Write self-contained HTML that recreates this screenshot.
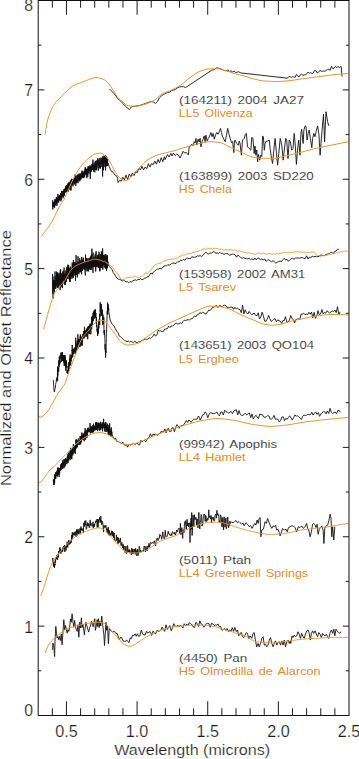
<!DOCTYPE html>
<html><head><meta charset="utf-8"><style>
html,body{margin:0;padding:0;background:#fff;}
svg{display:block;}
text{font-family:"Liberation Sans",sans-serif;}
.tk{font-size:15.8px;fill:#1a1a1a;stroke:#fff;stroke-width:0.2px;}
.ax{font-size:14px;fill:#1a1a1a;stroke:#fff;stroke-width:0.2px;}
.lb{font-size:11.6px;fill:#1a1a1a;letter-spacing:0px;word-spacing:1.6px;stroke:#fff;stroke-width:0.15px;}
.lo{font-size:11.6px;fill:#e98a26;letter-spacing:0px;word-spacing:1.6px;}
</style></head><body>
<svg width="359" height="759" viewBox="0 0 359 759">
<rect width="359" height="759" fill="#fff"/>
<polyline points="109.4,88.9 111.4,90.9 113.4,92.9 115.4,95.0 117.4,98.2 119.4,100.2 121.4,101.8 123.4,104.1 125.4,106.1 127.4,108.1 129.4,109.5 131.4,106.9 133.4,106.3 135.4,106.2 137.4,105.7 139.4,105.5 141.4,104.9 143.4,104.2 145.4,103.5 147.4,102.7 149.4,102.0 151.4,101.6 153.4,102.0 155.4,103.5 157.4,101.4 159.4,97.9 161.4,96.0 163.4,94.5 165.4,93.5 167.4,92.6 169.4,92.2 171.4,90.7 173.4,90.1 175.4,89.5 177.4,87.8 179.4,87.0 181.4,86.7 183.4,86.6 185.4,87.6 185.5,87.6 210.1,71.3 210.1,71.4 211.6,70.0 213.1,69.9 214.6,69.6 216.1,68.0 217.6,67.9 219.1,68.4 220.6,69.0 222.1,69.2 223.6,70.3 225.1,70.7 226.6,70.6 228.1,70.1 229.6,71.4 231.1,70.9 232.6,72.0 234.1,71.0 235.6,72.5 237.1,72.2 238.6,71.7 240.1,72.6 241.4,73.0 286.0,78.0 286.0,78.1 287.3,78.3 288.6,76.8 289.9,76.4 291.2,77.6 292.5,76.6 293.8,77.1 295.1,77.3 296.4,74.4 297.7,76.1 299.0,76.9 300.3,74.9 301.6,74.0 302.9,75.5 304.2,74.7 305.5,75.1 306.8,73.5 308.1,72.0 309.4,73.3 310.7,72.6 312.0,73.7 313.3,72.8 314.6,70.5 315.9,70.7 317.2,72.8 318.5,72.3 319.8,70.6 321.1,71.0 322.4,71.3 323.7,71.0 325.0,71.2 326.3,70.3 327.6,69.6 328.9,69.2 330.2,70.3 331.5,66.4 332.8,68.5 334.1,68.3 335.4,66.3 336.7,67.8 338.0,66.4 339.3,67.8 340.6,66.6 341.2,66.7 342.0,76.5" fill="none" stroke="#111" stroke-width="0.9" stroke-linejoin="round"/>
<polyline points="52.5,206.4 52.6,204.7 52.7,204.9 52.7,200.3 52.8,209.5 52.9,207.9 53.0,204.6 53.1,206.9 53.1,205.7 53.2,203.8 53.3,207.0 53.4,204.1 53.5,203.9 53.5,202.8 53.6,205.5 53.7,204.1 53.8,205.4 53.9,202.8 53.9,204.3 54.0,202.0 54.1,205.7 54.2,204.1 54.3,204.4 54.3,204.4 54.4,201.2 54.5,205.1 54.6,207.8 54.7,199.5 54.7,199.2 54.8,199.6 54.9,204.7 55.0,203.0 55.1,205.0 55.1,204.1 55.2,202.9 55.3,203.0 55.4,201.9 55.5,204.1 55.5,199.6 55.6,201.0 55.7,202.4 55.8,205.7 55.9,200.0 55.9,199.2 56.0,200.3 56.1,203.5 56.2,200.8 56.3,204.1 56.3,197.0 56.4,203.5 56.5,203.2 56.6,197.7 56.7,201.1 56.7,203.3 56.8,200.8 56.9,202.7 57.0,205.6 57.1,200.9 57.1,199.6 57.2,198.4 57.3,201.4 57.4,199.5 57.5,199.4 57.5,199.5 57.6,201.1 57.7,197.2 57.8,196.1 57.9,194.0 57.9,201.9 58.0,199.4 58.1,202.4 58.2,199.0 58.3,197.3 58.3,199.9 58.4,198.6 58.5,195.9 58.6,196.6 58.7,202.4 58.7,199.2 58.8,199.2 58.9,197.6 59.0,196.6 59.1,200.0 59.1,197.7 59.2,196.2 59.3,197.5 59.4,195.7 59.5,198.0 59.5,200.0 59.6,195.6 59.7,200.5 59.8,195.8 59.9,197.5 59.9,195.2 60.0,196.5 60.1,197.0 60.2,195.8 60.3,195.2 60.3,195.1 60.4,194.7 60.5,193.0 60.6,195.8 60.7,197.1 60.7,198.2 60.8,197.5 60.9,201.4 61.0,196.6 61.1,194.8 61.1,199.8 61.2,193.3 61.3,197.7 61.4,193.4 61.5,196.1 61.5,190.9 61.6,197.2 61.7,194.7 61.8,192.9 61.9,198.6 61.9,196.5 62.0,194.8 62.1,193.0 62.2,194.5 62.3,194.1 62.3,196.0 62.4,196.0 62.5,192.7 62.6,192.9 62.7,192.8 62.7,190.9 62.8,192.5 62.9,193.5 63.0,195.2 63.1,196.5 63.1,191.7 63.2,194.6 63.3,192.3 63.4,197.7 63.5,193.0 63.5,194.1 63.6,190.8 63.7,191.0 63.8,193.1 63.9,191.8 63.9,193.3 64.0,189.0 64.1,193.8 64.2,190.2 64.3,195.9 64.3,191.4 64.4,194.4 64.5,188.8 64.6,192.7 64.7,189.7 64.7,190.5 64.8,191.5 64.9,190.7 65.0,191.8 65.1,192.8 65.1,192.5 65.2,190.8 65.3,187.9 65.4,189.0 65.5,190.2 65.5,185.9 65.6,192.1 65.7,189.8 65.8,189.7 65.9,192.3 65.9,191.6 66.0,190.5 66.1,187.7 66.2,190.5 66.3,190.4 66.3,187.6 66.4,191.8 66.5,190.5 66.6,185.0 66.7,189.5 66.7,186.3 66.8,191.5 66.9,190.7 67.0,186.4 67.1,186.8 67.1,188.8 67.2,188.0 67.3,191.8 67.4,189.9 67.5,187.6 67.5,189.4 67.6,183.6 67.7,188.6 67.8,189.7 67.9,187.3 67.9,186.1 68.0,188.8 68.1,191.8 68.2,187.8 68.3,184.8 68.3,190.3 68.4,182.9 68.5,188.1 68.6,185.6 68.7,188.8 68.7,184.8 68.8,189.5 68.9,187.2 69.0,182.6 69.1,182.0 69.1,185.5 69.2,189.0 69.3,186.3 69.4,186.1 69.5,185.3 69.5,187.4 69.6,186.5 69.7,186.2 69.8,183.3 69.9,188.0 69.9,188.3 70.0,182.4 70.1,190.2 70.2,186.6 70.3,183.9 70.3,180.7 70.4,186.2 70.5,185.9 70.6,183.3 70.7,180.6 70.7,186.9 70.8,183.1 70.9,183.2 71.0,190.5 71.1,188.8 71.1,186.1 71.2,183.0 71.3,185.3 71.4,178.8 71.5,183.9 71.5,182.0 71.6,180.7 71.7,180.0 71.8,184.6 71.9,183.5 71.9,183.6 72.0,185.0 72.1,181.2 72.2,180.3 72.3,179.0 72.3,182.1 72.4,184.5 72.5,182.4 72.6,184.1 72.7,180.0 72.7,181.5 72.8,180.8 72.9,179.6 73.0,186.4 73.1,184.1 73.1,180.5 73.2,180.4 73.3,181.9 73.4,178.8 73.5,182.8 73.5,179.0 73.6,180.9 73.7,179.4 73.8,180.6 73.9,178.6 73.9,178.0 74.0,179.3 74.1,179.8 74.2,180.6 74.3,181.4 74.3,184.5 74.4,182.9 74.5,180.5 74.6,182.5 74.7,179.4 74.7,184.0 74.8,182.0 74.9,177.7 75.0,182.3 75.1,182.4 75.1,174.6 75.2,178.8 75.3,179.3 75.4,176.1 75.5,177.9 75.5,178.1 75.6,181.3 75.7,180.7 75.8,185.8 75.9,179.1 75.9,182.4 76.0,180.0 76.1,180.4 76.2,177.2 76.3,175.4 76.3,177.9 76.4,181.2 76.5,183.0 76.6,180.7 76.7,180.5 76.7,177.5 76.8,182.6 76.9,182.1 77.0,178.0 77.1,179.0 77.1,176.8 77.2,182.2 77.3,179.8 77.4,178.6 77.5,179.7 77.5,179.7 77.6,177.7 77.7,175.9 77.8,175.7 77.9,174.6 77.9,179.4 78.0,183.2 78.1,174.6 78.2,178.5 78.3,179.1 78.3,176.0 78.4,178.5 78.5,175.6 78.6,180.6 78.7,176.6 78.7,178.1 78.8,179.3 78.9,176.8 79.0,173.7 79.1,176.4 79.1,179.2 79.2,177.3 79.3,177.9 79.4,175.0 79.5,177.6 79.5,178.9 79.6,177.3 79.7,181.3 79.8,176.6 79.9,174.7 79.9,173.4 80.0,179.4 80.1,176.7 80.2,179.0 80.3,177.7 80.3,180.2 80.4,179.4 80.5,175.7 80.6,177.1 80.7,178.8 80.7,173.6 80.8,179.5 80.9,178.9 81.0,178.3 81.1,175.7 81.1,176.7 81.2,173.5 81.3,176.1 81.4,174.6 81.5,176.0 81.5,174.6 81.6,176.3 81.7,178.2 81.8,172.7 81.9,177.5 81.9,171.0 82.0,170.6 82.1,175.0 82.2,175.2 82.3,176.1 82.3,171.5 82.4,174.9 82.5,175.3 82.6,177.7 82.7,174.6 82.7,175.9 82.8,172.6 82.9,174.2 83.0,173.6 83.1,176.1 83.1,172.3 83.2,172.6 83.3,175.6 83.4,178.2 83.5,175.0 83.5,174.8 83.6,173.3 83.7,176.4 83.8,175.1 83.9,177.7 83.9,174.5 84.0,171.7 84.1,172.4 84.2,171.4 84.3,170.8 84.3,176.3 84.4,175.2 84.5,170.6 84.6,177.2 84.7,173.8 84.7,171.1 84.8,174.0 84.9,172.9 85.0,171.3 85.1,168.6 85.1,172.9 85.2,173.4 85.3,167.0 85.4,173.9 85.5,173.9 85.5,171.5 85.6,172.7 85.7,171.8 85.8,170.5 85.9,171.5 85.9,175.2 86.0,168.9 86.1,172.6 86.2,172.4 86.3,170.4 86.3,170.9 86.4,168.7 86.5,169.9 86.6,171.7 86.7,172.4 86.7,169.6 86.8,178.2 86.9,170.2 87.0,171.7 87.1,170.8 87.1,170.4 87.2,174.1 87.3,170.1 87.4,174.0 87.5,173.5 87.5,168.7 87.6,173.2 87.7,169.4 87.8,176.8 87.9,169.9 87.9,168.6 88.0,166.4 88.1,167.7 88.2,169.2 88.3,168.2 88.3,167.7 88.4,168.8 88.5,169.8 88.6,173.4 88.7,166.4 88.7,168.9 88.8,167.9 88.9,166.6 89.0,167.1 89.1,167.8 89.1,171.4 89.2,169.3 89.3,168.5 89.4,171.0 89.5,170.2 89.5,169.0 89.6,170.3 89.7,167.6 89.8,170.7 89.9,170.3 89.9,168.3 90.0,165.2 90.1,174.1 90.2,169.4 90.3,178.9 90.4,166.8 90.5,171.6 90.6,167.4 90.7,169.6 90.8,171.4 90.9,166.0 91.0,168.2 91.1,169.0 91.2,168.8 91.3,170.3 91.4,171.6 91.5,171.0 91.6,169.0 91.7,167.0 91.8,164.4 91.9,165.6 92.0,166.2 92.1,170.1 92.2,166.7 92.3,163.7 92.4,169.8 92.5,165.1 92.6,165.1 92.7,166.8 92.8,169.0 92.9,159.6 93.0,163.7 93.1,167.9 93.2,166.1 93.3,164.4 93.4,165.4 93.5,171.6 93.6,165.6 93.7,169.3 93.8,169.5 93.9,165.4 94.0,168.3 94.1,165.3 94.2,164.7 94.3,163.0 94.4,169.4 94.5,165.3 94.6,164.7 94.7,162.8 94.8,172.3 94.9,168.7 95.0,165.9 95.1,164.0 95.2,161.2 95.3,167.1 95.4,167.0 95.5,161.4 95.6,169.7 95.7,168.4 95.8,162.7 95.9,164.0 96.0,164.4 96.1,166.2 96.2,165.2 96.3,160.3 96.4,170.3 96.5,166.5 96.6,169.5 96.7,169.5 96.8,164.7 96.9,166.4 97.0,167.6 97.1,167.7 97.2,164.6 97.3,163.1 97.4,165.1 97.5,162.4 97.6,163.1 97.7,158.3 97.8,165.1 97.9,161.4 98.0,162.9 98.1,164.5 98.2,165.6 98.3,170.7 98.4,165.2 98.5,159.8 98.6,164.8 98.7,162.4 98.8,165.6 98.9,162.0 99.0,161.9 99.1,162.4 99.2,162.0 99.3,158.1 99.4,161.8 99.5,163.8 99.6,167.7 99.7,162.8 99.8,162.5 99.9,165.5 100.0,165.4 100.1,168.7 100.2,165.4 100.3,163.4 100.4,167.7 100.5,168.3 100.6,161.7 100.7,163.7 100.8,157.7 100.9,161.9 101.0,160.1 101.1,162.2 101.2,161.3 101.3,162.3 101.4,162.4 101.5,164.3 101.6,163.4 101.7,160.8 101.8,158.4 101.9,166.5 102.0,167.1 102.1,160.9 102.2,164.2 102.3,157.3 102.4,157.2 102.5,161.3 102.6,166.9 102.6,176.5 102.7,158.7 102.8,159.4 102.9,167.3 102.9,158.0 103.0,155.8 103.1,164.1 103.2,163.5 103.3,161.2 103.4,162.5 103.5,170.3 103.6,158.1 103.7,160.7 103.8,160.9 103.9,159.4 104.0,157.3 104.1,166.8 104.2,162.3 104.3,155.8 104.4,159.2 104.5,162.8 104.6,162.7 104.7,156.7 104.8,161.0 104.9,162.2 105.0,162.5 105.1,162.5 105.2,155.3 105.3,167.2 105.4,161.8 105.5,167.0 105.6,170.4 105.7,160.6 105.8,157.1 105.9,163.9 106.0,160.5 106.1,159.6 106.2,157.7 106.3,166.5 106.4,159.6 106.5,156.5 106.6,159.5 106.7,157.3 106.8,161.6 106.9,159.8 107.0,157.8 107.1,163.3 107.2,159.4 107.3,164.0 107.4,165.9 107.5,160.8 107.6,160.1 107.7,163.0 107.8,165.5 107.9,162.9 108.0,163.3 109.2,166.5 110.4,169.4 111.6,171.6 112.8,171.9 114.0,173.6 115.2,175.3 116.4,175.8 117.6,178.3 118.0,182.5 119.6,180.3 121.2,181.2 122.8,177.2 124.4,179.8 126.0,175.1 127.6,179.6 129.2,174.2 130.8,176.6 132.4,172.9 134.0,175.6 135.6,171.6 137.2,172.7 138.8,168.2 140.4,170.0 142.0,166.2 143.6,169.9 145.2,167.0 146.8,168.8 148.4,163.7 150.0,167.1 151.6,163.5 153.2,164.7 154.8,161.1 156.4,164.2 158.0,159.4 159.6,162.8 161.2,157.7 162.8,161.7 164.4,156.7 165.0,159.6 167.5,154.6 169.0,157.0 170.8,153.4 172.0,156.0 173.4,153.0 175.0,155.5 176.7,154.0 178.4,155.0 180.0,158.0 181.7,154.6 183.0,151.3 184.6,153.0 186.3,152.5 187.6,154.2 188.4,155.0 189.2,146.7 190.5,145.8 191.7,144.2 192.9,146.0 194.2,141.7 195.0,143.0 195.9,138.4 196.7,145.1 198.1,139.2 199.2,142.0 200.1,138.4 200.9,146.8 202.0,142.0 203.1,139.2 204.2,135.9 205.1,141.7 205.9,135.1 207.1,140.9 208.4,138.4 209.7,136.0 210.9,132.5 212.1,136.7 213.1,133.4 214.3,139.2 215.5,135.1 216.8,132.5 218.1,134.2 219.3,131.7 220.5,128.4 221.5,132.5 222.6,136.7 223.8,139.2 225.2,141.7 226.5,135.1 227.7,128.4 228.8,133.4 230.2,138.4 231.5,142.6 232.6,141.5 233.8,152.6 234.5,140.9 235.0,140.1 236.7,143.5 238.3,145.1 239.2,141.0 240.0,143.0 241.4,155.2 242.5,140.1 244.2,138.4 245.4,134.3 246.4,133.4 247.5,146.8 249.2,148.5 250.9,150.2 251.7,137.6 252.9,138.0 254.2,153.5 255.0,146.0 255.9,155.2 256.8,150.0 257.6,161.9 258.4,154.5 259.7,160.2 260.9,155.0 261.8,156.5 262.6,135.9 263.4,137.0 264.3,150.2 265.1,143.5 265.9,141.4 267.6,141.0 269.3,140.1 270.1,148.5 271.8,160.2 272.6,163.5 273.8,150.0 275.1,138.4 276.5,153.5 277.6,165.2 278.8,153.5 280.2,138.4 281.8,145.1 283.2,160.2 284.3,150.0 285.7,138.4 286.7,140.1 288.0,158.5 289.2,140.1 290.4,142.0 291.7,150.2 293.0,148.5 294.2,133.4 295.4,146.8 296.4,164.4 297.5,150.0 298.7,140.1 300.0,155.2 300.9,133.4 301.7,129.3 303.1,143.5 303.9,130.1 305.1,125.9 306.0,126.5 307.1,140.1 308.1,133.4 309.2,130.1 310.4,138.5 311.8,147.7 312.6,138.5 313.8,133.4 315.0,136.8 316.4,130.1 317.6,125.9 319.0,135.1 320.1,155.2 321.1,142.0 322.1,130.1 323.5,114.2 324.6,141.8 326.0,111.7 327.6,121.7 328.8,125.9" fill="none" stroke="#111" stroke-width="0.9" stroke-linejoin="round"/>
<polyline points="52.5,293.7 52.6,274.1 52.6,286.7 52.7,282.5 52.8,283.0 52.9,284.0 52.9,276.3 53.0,283.8 53.1,281.1 53.1,298.4 53.2,285.7 53.3,283.2 53.3,283.5 53.4,281.8 53.5,280.1 53.6,282.9 53.6,286.6 53.7,283.5 53.8,288.5 53.8,283.6 53.9,284.5 54.0,290.9 54.0,286.6 54.1,282.1 54.2,283.4 54.3,286.4 54.3,292.3 54.4,282.9 54.5,282.9 54.5,288.2 54.6,280.1 54.7,282.6 54.7,287.5 54.8,286.2 54.9,284.0 55.0,286.4 55.0,271.5 55.1,287.8 55.2,279.3 55.2,276.3 55.3,284.5 55.4,286.2 55.4,281.3 55.5,278.5 55.6,283.1 55.7,282.7 55.7,288.9 55.8,286.0 55.9,283.6 55.9,287.4 56.0,281.8 56.1,278.6 56.1,285.0 56.2,284.9 56.3,281.5 56.4,279.0 56.4,283.2 56.5,271.6 56.6,285.0 56.6,284.1 56.7,275.0 56.8,282.2 56.8,277.8 56.9,285.0 57.0,273.1 57.1,277.8 57.1,284.6 57.2,286.4 57.3,272.3 57.3,279.3 57.4,282.7 57.5,278.7 57.5,288.0 57.6,276.1 57.7,282.6 57.8,276.6 57.8,286.9 57.9,280.8 58.0,279.3 58.0,273.5 58.1,287.9 58.2,283.9 58.2,283.8 58.3,285.4 58.4,282.0 58.5,277.7 58.5,277.0 58.6,277.0 58.7,286.1 58.7,274.0 58.8,277.7 58.9,278.8 58.9,281.1 59.0,282.5 59.1,274.7 59.2,272.6 59.2,279.9 59.3,285.0 59.4,283.0 59.4,280.7 59.5,278.3 59.6,280.9 59.6,278.6 59.7,283.0 59.8,276.1 59.9,280.0 59.9,278.9 60.0,281.7 60.1,280.3 60.1,290.1 60.2,285.6 60.3,285.5 60.3,270.4 60.4,277.6 60.5,276.4 60.6,281.2 60.6,269.2 60.7,283.9 60.8,283.4 60.8,273.2 60.9,274.6 61.0,275.3 61.0,278.8 61.1,281.3 61.2,287.2 61.3,277.6 61.3,281.7 61.4,279.1 61.5,285.8 61.5,281.5 61.6,284.1 61.7,273.6 61.7,277.3 61.8,274.6 61.9,284.5 62.0,280.8 62.0,276.7 62.1,276.0 62.2,279.9 62.2,274.8 62.3,273.8 62.4,279.8 62.4,288.1 62.5,276.6 62.6,275.2 62.7,272.6 62.7,271.8 62.8,279.7 62.9,281.0 62.9,277.4 63.0,278.7 63.1,277.7 63.1,277.8 63.2,270.6 63.3,275.1 63.4,277.5 63.4,273.7 63.5,274.9 63.6,273.4 63.6,275.4 63.7,280.4 63.8,275.0 63.8,276.0 63.9,280.1 64.0,279.3 64.1,283.7 64.1,267.6 64.2,280.1 64.3,274.3 64.3,276.9 64.4,279.8 64.5,280.8 64.5,280.6 64.6,276.8 64.7,282.9 64.8,274.8 64.8,275.4 64.9,279.3 65.0,273.5 65.0,285.0 65.1,280.1 65.2,285.0 65.2,275.5 65.3,274.0 65.4,276.3 65.5,278.6 65.5,272.9 65.6,277.0 65.7,275.3 65.7,282.2 65.8,272.4 65.9,279.6 65.9,272.4 66.0,271.0 66.1,272.0 66.2,269.9 66.2,275.5 66.3,279.3 66.4,275.5 66.4,277.4 66.5,281.7 66.6,275.8 66.6,275.4 66.7,273.4 66.8,267.7 66.9,277.7 66.9,266.9 67.0,277.1 67.1,274.2 67.1,279.0 67.2,273.9 67.3,270.6 67.3,275.6 67.4,271.7 67.5,273.2 67.6,274.1 67.6,273.3 67.7,273.0 67.8,270.2 67.8,272.9 67.9,264.6 68.0,273.0 68.0,268.5 68.1,278.3 68.2,278.9 68.3,265.1 68.3,274.0 68.4,272.8 68.5,268.8 68.5,275.5 68.6,271.2 68.7,265.6 68.7,271.9 68.8,272.4 68.9,273.4 69.0,267.7 69.0,275.4 69.1,275.9 69.2,267.9 69.2,269.9 69.3,272.3 69.4,270.2 69.4,279.9 69.5,273.3 69.6,268.1 69.7,269.0 69.7,272.0 69.8,282.0 69.9,271.4 69.9,272.7 70.0,274.3 70.1,271.8 70.1,281.7 70.2,269.6 70.3,275.0 70.4,272.5 70.4,274.4 70.5,266.7 70.6,279.1 70.6,271.1 70.7,271.7 70.8,267.5 70.8,268.3 70.9,273.8 71.0,275.5 71.1,274.5 71.1,276.3 71.2,274.2 71.3,271.2 71.3,274.6 71.4,273.5 71.5,270.5 71.5,274.0 71.6,276.3 71.7,271.8 71.8,269.2 71.8,273.7 71.9,278.7 72.0,269.7 72.0,270.1 72.1,269.9 72.2,275.6 72.2,262.6 72.3,271.9 72.4,275.3 72.5,266.8 72.5,276.5 72.6,272.4 72.7,267.7 72.7,270.9 72.8,263.5 72.9,267.5 72.9,277.7 73.0,266.0 73.1,277.6 73.2,269.4 73.2,273.9 73.3,269.9 73.4,260.1 73.4,267.1 73.5,270.3 73.6,264.6 73.6,263.7 73.7,271.0 73.8,266.6 73.9,262.1 73.9,266.4 74.0,272.9 74.1,267.2 74.1,273.1 74.2,275.6 74.3,269.2 74.3,264.2 74.4,263.5 74.5,268.9 74.6,272.7 74.6,270.0 74.7,271.2 74.8,266.9 74.8,270.0 74.9,266.7 75.0,267.3 75.0,263.2 75.1,261.9 75.2,266.5 75.3,263.8 75.3,264.4 75.4,271.3 75.5,268.0 75.5,280.8 75.6,272.3 75.7,265.6 75.7,271.6 75.8,269.8 75.9,265.3 76.0,272.9 76.0,264.8 76.1,255.1 76.2,271.4 76.2,265.4 76.3,274.3 76.4,265.2 76.4,262.9 76.5,274.5 76.6,263.3 76.7,268.7 76.7,273.9 76.8,268.2 76.9,267.4 76.9,268.1 77.0,271.2 77.1,264.2 77.1,270.2 77.2,270.0 77.3,277.4 77.4,266.0 77.4,263.6 77.5,270.5 77.6,265.7 77.6,268.6 77.7,267.9 77.8,272.2 77.8,264.5 77.9,266.8 78.0,256.3 78.1,263.4 78.1,273.7 78.2,264.2 78.3,264.1 78.3,261.9 78.4,269.5 78.5,267.7 78.5,261.9 78.6,269.7 78.7,268.0 78.8,270.1 78.8,264.1 78.9,274.2 79.0,268.5 79.0,266.2 79.1,264.5 79.2,265.6 79.2,270.3 79.3,265.5 79.4,271.2 79.5,269.0 79.5,272.2 79.6,270.0 79.7,266.2 79.7,258.3 79.8,267.7 79.9,269.7 79.9,267.0 80.0,268.7 80.1,264.3 80.2,264.6 80.2,262.2 80.3,272.0 80.4,266.9 80.4,264.1 80.5,260.5 80.6,265.4 80.6,272.2 80.7,268.0 80.8,262.9 80.9,272.1 80.9,272.0 81.0,270.1 81.1,269.3 81.1,270.8 81.2,268.2 81.3,269.1 81.3,262.5 81.4,272.2 81.5,266.7 81.6,274.3 81.6,257.0 81.7,268.7 81.8,269.8 81.8,264.2 81.9,267.5 82.0,268.7 82.0,268.0 82.1,263.2 82.2,264.9 82.3,269.8 82.3,270.9 82.4,265.8 82.5,265.7 82.5,266.2 82.6,269.8 82.7,260.8 82.7,259.6 82.8,265.8 82.9,260.5 83.0,262.7 83.0,265.6 83.1,267.2 83.2,260.6 83.2,268.5 83.3,257.6 83.4,267.4 83.4,258.3 83.5,259.6 83.6,267.7 83.7,263.2 83.7,261.6 83.8,263.0 83.9,266.9 83.9,264.6 84.0,264.7 84.1,269.3 84.1,261.8 84.2,262.8 84.3,262.5 84.4,269.7 84.4,268.9 84.5,270.1 84.6,264.5 84.6,264.0 84.7,268.2 84.8,262.9 84.8,268.1 84.9,267.6 85.0,261.5 85.1,264.1 85.1,264.0 85.2,271.8 85.3,275.4 85.3,264.0 85.4,264.4 85.5,254.6 85.5,265.2 85.6,264.3 85.7,259.7 85.8,267.6 85.8,257.6 85.9,263.3 86.0,264.8 86.0,258.8 86.1,267.8 86.2,268.6 86.2,258.2 86.3,258.1 86.4,266.6 86.5,263.9 86.5,258.8 86.6,262.7 86.7,263.5 86.7,263.3 86.8,267.4 86.9,265.5 86.9,271.4 87.0,269.7 87.1,266.7 87.2,268.3 87.2,269.4 87.3,266.7 87.4,258.5 87.4,267.3 87.5,264.0 87.6,270.5 87.6,264.0 87.7,265.8 87.8,265.0 87.9,270.7 87.9,264.3 88.0,262.3 88.1,264.8 88.1,261.6 88.2,264.1 88.3,263.4 88.3,264.5 88.4,271.5 88.5,261.6 88.6,263.5 88.6,262.4 88.7,266.1 88.8,258.2 88.8,260.3 88.9,263.0 89.0,265.5 89.0,263.0 89.1,261.0 89.2,259.4 89.3,265.3 89.3,269.2 89.4,264.4 89.5,263.8 89.5,264.9 89.6,259.0 89.7,261.6 89.7,261.8 89.8,264.2 89.9,262.7 90.0,257.7 90.0,267.6 90.1,270.0 90.2,261.7 90.2,264.5 90.3,263.9 90.4,266.1 90.4,256.4 90.5,269.5 90.6,260.7 90.7,268.0 90.7,263.0 90.8,261.0 90.9,262.0 90.9,266.4 91.0,258.9 91.1,260.9 91.1,260.5 91.2,255.2 91.3,268.0 91.4,264.9 91.4,262.3 91.5,267.4 91.6,258.3 91.6,262.1 91.7,269.7 91.8,266.5 91.8,252.8 91.9,248.7 92.0,257.9 92.1,266.8 92.1,260.2 92.2,261.3 92.3,264.8 92.3,258.4 92.4,263.1 92.5,265.5 92.5,264.1 92.6,263.8 92.7,259.5 92.8,264.2 92.8,260.2 92.9,267.6 93.0,272.9 93.0,258.8 93.1,252.7 93.2,260.1 93.2,263.5 93.3,266.4 93.4,266.5 93.5,258.6 93.5,258.5 93.6,267.2 93.7,257.2 93.7,266.4 93.8,260.8 93.9,265.0 93.9,264.7 94.0,265.0 94.1,265.2 94.2,257.5 94.2,262.9 94.3,261.7 94.4,262.9 94.4,266.8 94.5,260.4 94.6,258.5 94.6,258.5 94.7,260.2 94.8,264.7 94.9,258.0 94.9,266.4 95.0,262.7 95.1,260.5 95.1,255.7 95.2,262.4 95.3,264.3 95.3,253.8 95.4,266.4 95.5,268.3 95.6,262.7 95.6,263.4 95.7,271.5 95.8,266.5 95.8,257.4 95.9,261.1 96.0,260.5 96.0,260.5 96.1,251.1 96.2,264.3 96.3,258.4 96.3,261.8 96.4,260.5 96.5,264.7 96.5,259.8 96.6,257.6 96.7,263.2 96.7,266.9 96.8,259.6 96.9,266.8 97.0,262.0 97.0,258.6 97.1,267.4 97.2,257.4 97.2,265.2 97.3,258.7 97.4,262.7 97.4,255.6 97.5,257.2 97.6,265.3 97.7,261.6 97.7,260.9 97.8,258.9 97.9,262.6 97.9,254.8 98.0,255.9 98.1,260.0 98.1,257.1 98.2,257.7 98.3,260.3 98.4,260.1 98.4,259.7 98.5,267.7 98.6,264.9 98.6,265.8 98.7,260.5 98.8,258.4 98.8,254.4 98.9,259.1 99.0,251.7 99.1,258.1 99.1,263.8 99.2,267.4 99.3,264.6 99.3,256.9 99.4,262.6 99.5,257.2 99.5,264.0 99.6,260.0 99.7,264.2 99.8,271.4 99.8,264.4 99.9,270.4 100.0,261.3 100.0,259.1 100.1,266.2 100.2,267.8 100.2,258.1 100.3,260.8 100.4,254.4 100.5,259.7 100.5,264.3 100.6,260.1 100.7,258.1 100.7,254.5 100.8,262.1 100.9,263.9 100.9,263.1 101.0,261.6 101.1,255.1 101.2,268.0 101.2,260.3 101.3,259.9 101.4,263.7 101.4,251.4 101.5,260.3 101.6,260.0 101.6,262.2 101.7,266.3 101.8,262.6 101.9,252.8 101.9,259.2 102.0,261.5 102.1,261.3 102.1,255.2 102.2,253.6 102.3,263.0 102.3,262.2 102.4,260.6 102.5,253.4 102.6,268.3 102.6,248.4 102.7,259.2 102.8,269.7 102.8,260.1 102.9,261.8 103.0,255.8 103.0,266.6 103.1,255.3 103.2,261.9 103.3,261.4 103.3,256.4 103.4,264.6 103.5,254.9 103.5,258.0 103.6,260.8 103.7,259.2 103.7,262.9 103.8,264.9 103.9,259.7 104.0,258.7 104.0,258.8 104.1,259.5 104.2,264.5 104.2,260.1 104.3,262.8 104.4,260.7 104.4,257.5 104.5,264.8 104.6,256.7 104.7,261.2 104.7,267.5 104.8,256.6 104.9,261.0 104.9,254.5 105.0,259.1 105.1,255.0 105.1,259.8 105.2,259.1 105.3,262.0 105.4,268.2 105.4,262.7 105.5,264.3 105.6,261.4 105.6,260.6 105.7,258.1 105.8,254.0 105.8,262.0 105.9,268.7 106.0,263.8 106.1,259.6 106.1,268.9 106.2,260.1 106.3,259.3 106.3,256.9 106.4,258.0 106.5,261.1 106.5,270.7 106.6,261.3 106.7,257.9 106.8,259.7 106.8,261.4 106.9,255.1 107.0,263.0 107.0,265.5 107.1,263.9 107.2,265.2 107.2,257.2 107.3,255.6 107.4,268.3 107.5,267.6 107.5,256.5 107.6,264.0 107.7,263.4 107.7,265.7 107.8,264.4 107.9,261.4 107.9,264.5 108.0,263.9 109.3,266.4 110.6,267.9 111.9,269.3 113.2,272.7 114.5,274.0 115.8,276.7 117.1,278.3 118.4,279.2 119.7,279.4 121.0,280.0 122.3,280.9 123.6,280.0 124.9,281.3 126.2,281.6 127.5,281.7 128.8,282.7 130.1,281.4 131.4,282.2 132.7,280.7 134.0,280.3 135.3,279.8 136.6,280.4 137.9,279.4 139.2,279.7 140.5,278.7 141.8,279.6 143.1,279.6 144.4,278.1 145.7,278.2 147.0,276.8 148.3,277.0 149.6,275.0 150.9,273.1 152.2,274.0 153.5,272.1 154.8,270.8 156.1,270.2 157.4,268.9 158.7,269.1 160.0,268.0 161.3,268.9 162.6,267.9 163.9,266.0 165.2,265.7 166.5,265.9 167.8,264.6 169.1,265.2 170.4,264.6 171.7,263.5 173.0,263.0 174.3,263.1 175.0,263.6 176.4,263.2 177.8,261.6 179.2,261.9 180.6,260.2 182.0,260.7 183.4,259.3 184.8,260.2 186.2,258.3 187.6,258.2 189.0,258.6 190.4,258.7 191.8,256.8 193.2,257.1 194.6,257.3 196.0,257.0 197.4,255.8 198.8,256.2 200.2,255.5 201.6,256.5 203.0,255.3 204.4,253.3 205.8,252.2 207.2,253.5 208.6,254.0 210.0,252.9 211.4,253.2 212.8,252.1 214.2,251.5 215.6,253.3 217.0,252.9 218.4,253.6 219.8,252.2 221.2,253.6 222.6,253.2 224.0,254.5 225.4,253.5 226.8,253.6 228.2,253.8 229.6,255.4 231.0,254.6 232.4,254.2 233.8,254.3 235.2,254.7 236.6,257.2 238.0,255.0 239.4,256.2 240.8,257.7 242.2,258.3 243.6,257.5 245.0,258.4 246.4,258.6 247.8,258.9 249.2,258.3 250.6,259.7 252.0,258.7 253.4,260.0 254.8,258.0 256.2,259.8 257.6,258.1 259.0,258.1 260.4,259.8 261.8,258.9 263.2,260.0 264.6,259.0 266.0,261.3 267.4,260.3 268.8,259.6 270.2,261.0 271.6,261.8 273.0,260.7 274.4,261.9 275.8,263.2 277.2,262.3 278.6,261.6 280.0,261.0 281.4,261.7 282.8,259.8 284.2,258.3 285.6,259.9 287.0,259.3 288.4,261.3 289.8,259.8 291.2,258.7 292.6,258.3 294.0,259.3 295.4,258.0 296.8,257.9 298.2,258.1 299.6,258.0 301.0,257.8 302.4,257.6 303.8,258.4 305.2,258.6 306.6,255.8 308.0,259.0 309.4,257.0 310.8,257.8 312.2,256.0 313.6,256.8 315.0,256.5 316.4,256.3 317.8,256.7 319.2,256.3 320.6,254.8 322.0,255.3 323.4,255.7 324.8,255.5 326.2,254.3 327.6,254.1 329.0,253.8 330.4,252.7 331.8,252.1 333.2,253.8 334.6,251.5 336.0,251.1 337.4,249.3 338.8,249.5" fill="none" stroke="#111" stroke-width="0.9" stroke-linejoin="round"/>
<polyline points="53.3,380.1 53.7,385.5 54.1,391.3 54.5,392.0 54.9,388.7 55.3,387.9 55.7,384.4 56.1,382.4 56.5,378.4 56.9,377.9 57.0,377.8 57.1,381.4 57.2,376.6 57.4,376.6 57.5,369.3 57.6,380.8 57.7,366.5 57.8,375.6 58.0,370.3 58.1,367.8 58.2,367.7 58.3,367.0 58.4,369.6 58.6,367.3 58.7,371.7 58.8,360.2 58.9,365.5 59.0,361.9 59.2,366.6 59.3,356.6 59.4,361.7 59.5,362.9 59.6,356.8 59.8,364.1 59.9,360.8 60.0,362.8 60.1,362.0 60.2,355.0 60.4,355.0 60.5,356.3 60.6,358.8 60.7,358.7 60.8,353.2 61.0,353.3 61.1,352.5 61.2,353.1 61.3,354.2 61.4,354.6 61.6,361.8 61.7,353.6 61.8,354.4 61.9,356.9 62.0,352.5 62.2,354.6 62.3,356.0 62.4,358.6 62.5,352.0 62.6,361.0 62.8,355.6 62.9,357.5 63.0,359.9 63.1,359.5 63.2,361.0 63.4,358.3 63.5,357.9 63.6,359.1 63.7,355.1 63.8,362.5 64.0,356.2 64.1,354.9 64.2,365.9 64.3,359.0 64.4,355.8 64.6,365.9 64.7,359.1 64.8,363.8 64.9,357.9 65.0,360.1 65.2,355.7 65.3,355.3 65.4,358.6 65.5,361.8 65.6,365.0 65.8,370.7 65.9,359.9 66.0,367.0 66.1,362.3 66.2,364.4 66.4,360.6 66.5,361.3 66.6,364.1 66.7,363.4 66.8,367.9 67.0,366.1 67.1,373.0 67.2,369.9 67.3,370.3 67.4,373.8 67.6,372.1 67.7,370.4 67.8,370.3 67.9,370.1 68.0,373.8 68.2,372.4 68.3,370.6 68.4,371.4 68.5,366.4 68.6,369.1 68.8,362.0 68.9,370.2 69.0,365.4 69.1,364.9 69.2,365.5 69.4,362.9 69.5,361.6 69.6,365.8 69.7,361.8 69.8,357.9 70.0,361.8 70.1,354.4 70.2,364.8 70.3,358.4 70.4,358.6 70.6,365.3 70.7,364.5 70.8,357.5 70.9,358.7 71.0,359.8 71.2,361.4 71.3,355.1 71.4,355.7 71.5,358.9 71.6,355.5 71.8,356.8 71.9,356.1 72.0,350.2 72.1,350.9 72.2,344.9 72.4,352.5 72.5,357.5 72.6,349.4 72.7,356.9 72.8,355.9 73.0,352.4 73.1,352.4 73.2,352.5 73.3,349.3 73.4,351.0 73.6,351.6 73.7,353.6 73.8,354.0 73.9,348.8 74.0,353.7 74.2,348.3 74.3,350.1 74.4,351.6 74.5,350.1 74.6,349.5 74.8,350.5 74.9,347.6 75.0,347.0 75.1,348.2 75.2,351.7 75.4,348.0 75.5,354.2 75.6,348.5 75.7,337.8 75.8,345.8 76.0,352.4 76.1,346.7 76.2,345.0 76.3,343.4 76.4,350.3 76.6,349.0 76.7,347.7 76.8,346.7 76.9,349.8 77.0,347.5 77.2,340.7 77.3,347.0 77.4,344.9 77.5,343.9 77.6,346.6 77.8,344.0 77.9,334.3 78.0,348.7 78.1,346.9 78.2,343.0 78.4,342.1 78.5,344.0 78.6,338.9 78.7,344.0 78.8,342.2 79.0,341.7 79.1,339.7 79.2,340.4 79.3,346.1 79.4,346.7 79.6,343.9 79.7,342.0 79.8,339.2 79.9,344.3 80.0,347.1 80.2,336.5 80.3,345.4 80.4,334.4 80.5,340.2 80.6,342.4 80.8,336.6 80.9,335.9 81.0,341.3 81.1,343.4 81.2,338.8 81.4,344.5 81.5,337.4 81.6,345.5 81.7,340.0 81.8,340.2 82.0,341.2 82.1,340.0 82.2,344.7 82.3,345.7 82.4,340.1 82.6,337.5 82.7,334.0 82.8,335.1 82.9,337.3 83.0,336.7 83.2,336.5 83.3,336.4 83.4,337.6 83.5,331.3 83.6,332.0 83.8,338.6 83.9,337.3 84.0,332.5 84.1,338.1 84.2,331.3 84.4,332.4 84.5,326.9 84.6,335.3 84.7,332.3 84.8,335.5 85.0,334.1 85.1,331.9 85.2,332.0 85.3,335.2 85.4,330.7 85.6,330.6 85.7,331.2 85.8,333.6 85.9,333.9 86.0,337.1 86.2,330.5 86.3,334.8 86.4,328.6 86.5,332.6 86.6,331.0 86.8,336.2 86.9,332.5 87.0,329.1 87.1,332.3 87.2,331.6 87.4,329.3 87.5,329.4 87.6,327.2 87.7,339.2 87.8,330.6 88.0,333.2 88.1,326.2 88.2,326.4 88.3,329.3 88.4,329.2 88.6,332.2 88.7,326.2 88.8,331.0 88.9,334.1 89.0,326.0 89.2,331.8 89.3,325.5 89.4,329.6 89.5,329.5 89.6,333.8 89.8,325.7 89.9,328.3 90.0,330.9 90.1,323.5 90.2,327.0 90.4,324.0 90.5,324.3 90.6,328.6 90.7,328.4 90.8,334.3 91.0,330.1 91.1,329.5 91.2,324.5 91.3,323.7 91.4,324.8 91.6,316.6 91.7,329.0 91.8,321.0 91.9,319.3 92.0,320.8 92.2,324.7 92.3,325.4 92.4,319.6 92.5,321.8 92.6,319.7 92.8,316.2 92.9,319.5 93.0,318.6 93.1,313.0 93.2,321.2 93.4,312.0 93.5,317.5 93.6,312.9 93.7,313.3 93.8,313.2 94.0,317.3 94.1,310.5 94.2,313.5 94.3,318.7 94.4,310.9 94.6,312.6 94.7,314.5 94.8,310.2 94.9,313.4 95.0,309.6 95.2,314.1 95.3,312.3 95.4,309.5 95.5,317.8 95.6,313.8 95.8,314.2 95.9,313.1 96.0,315.7 96.1,318.1 96.2,320.0 96.4,324.1 96.5,317.1 96.6,321.2 96.7,327.2 96.8,324.9 97.0,326.8 97.1,331.7 97.2,328.7 97.3,330.1 97.4,329.4 97.6,336.0 97.7,334.2 97.8,328.8 97.9,333.0 98.0,327.3 98.2,334.1 98.3,332.1 98.4,328.6 98.5,326.8 98.6,321.2 98.8,328.4 98.9,324.4 99.0,322.6 99.1,324.8 99.2,319.3 99.4,318.6 99.5,317.2 99.6,314.0 99.7,325.0 99.8,315.3 100.0,313.6 100.1,316.5 100.2,302.3 100.3,311.6 100.4,311.0 100.6,307.3 100.7,311.8 100.8,303.8 100.9,310.6 101.0,313.8 101.2,304.1 101.3,307.2 101.4,312.0 101.5,313.1 101.6,311.7 101.8,315.6 101.9,315.9 102.0,311.2 102.1,315.8 102.2,312.4 102.4,310.3 102.5,309.6 102.6,321.3 102.7,318.0 102.8,325.2 103.0,314.6 103.1,318.8 103.2,321.7 103.3,320.8 103.4,323.6 103.6,323.2 103.7,321.7 103.8,317.2 103.9,322.9 104.0,332.9 104.2,331.3 104.3,334.8 104.4,330.0 104.5,333.0 104.6,332.4 104.8,338.3 104.9,339.1 105.0,342.4 105.1,349.5 105.2,344.1 105.4,352.2 105.5,347.8 105.6,357.6 105.7,353.0 105.8,353.1 106.0,351.2 106.1,352.6 106.2,343.0 106.3,337.0 106.4,330.5 106.6,331.6 106.7,324.7 106.8,322.4 106.9,320.4 107.0,319.1 107.2,311.3 107.3,313.0 107.4,314.4 107.5,302.5 107.6,311.5 107.8,314.2 107.9,305.6 108.0,309.9 108.1,303.9 108.2,310.0 108.4,308.4 108.5,311.0 108.6,307.7 108.7,308.6 108.8,311.7 110.1,319.9 111.4,323.0 112.7,324.8 114.0,326.1 115.3,328.5 116.6,331.1 117.9,332.6 119.2,335.9 120.5,336.7 121.8,337.8 123.1,339.2 124.4,340.5 125.7,340.9 127.0,341.7 128.3,341.0 129.6,342.2 130.9,341.3 132.2,342.1 133.5,342.3 134.8,341.1 136.1,342.3 137.4,342.8 138.7,341.5 140.0,342.0 141.3,340.8 142.6,340.5 143.9,339.7 145.2,338.9 146.5,339.6 147.8,339.2 149.1,337.6 150.4,338.5 151.7,337.4 153.0,336.2 154.3,334.0 155.6,336.2 156.9,334.9 158.2,330.4 159.5,330.9 160.8,330.9 162.1,331.8 163.4,331.4 164.7,329.0 166.0,329.0 167.3,328.8 168.6,326.1 169.9,327.5 171.2,326.0 172.5,326.0 173.8,325.3 175.1,323.6 176.4,323.3 177.7,324.0 179.0,323.7 180.3,322.8 181.6,323.7 182.9,321.7 184.2,320.2 185.5,320.5 186.8,320.1 188.1,319.5 189.4,320.2 190.7,318.8 192.0,318.7 193.3,317.6 194.6,316.0 195.9,316.7 197.2,314.7 198.5,314.7 199.8,312.7 201.1,313.4 202.4,312.4 203.7,312.6 205.0,313.7 206.3,313.8 207.6,311.7 208.9,310.0 210.2,310.4 211.5,309.0 212.8,307.3 214.1,307.0 215.4,306.2 216.7,305.5 218.0,307.6 219.3,305.6 220.6,305.7 221.9,307.1 223.2,305.6 224.5,305.2 225.8,305.7 227.1,307.3 228.4,307.3 229.7,307.5 231.0,307.1 232.3,307.0 233.6,309.4 234.9,307.3 236.2,309.0 237.5,308.1 238.8,309.3 240.0,309.7 241.3,312.8 242.6,305.0 243.9,313.9 245.2,309.8 246.5,312.6 247.8,314.0 249.1,311.4 250.4,313.2 251.7,314.7 253.0,313.9 254.3,313.1 255.6,315.4 256.9,315.6 258.2,312.8 259.5,319.0 260.8,317.1 262.1,312.2 263.4,315.7 264.7,321.2 266.0,321.2 267.3,318.9 268.6,315.4 269.9,318.6 271.2,321.5 272.5,320.5 273.8,319.3 275.1,318.6 276.4,321.8 277.7,319.8 279.0,320.8 280.3,321.2 281.6,323.5 282.9,320.5 284.2,320.7 285.5,316.6 286.8,322.4 288.1,322.0 289.4,320.1 290.7,315.5 292.0,318.6 293.3,319.5 294.6,323.0 295.9,319.4 297.2,319.3 298.5,318.8 299.8,319.3 301.1,314.0 302.4,314.2 303.7,313.2 305.0,314.7 306.3,314.2 307.6,314.8 308.9,312.3 310.2,314.2 311.5,312.1 312.8,317.8 314.1,312.3 315.4,318.3 316.7,316.3 318.0,310.6 319.3,314.8 320.6,314.0 321.9,309.6 323.2,313.8 324.5,312.4 325.8,313.2 327.1,310.7 328.4,312.2 329.7,313.1 331.0,311.9 332.3,310.9 333.6,311.7 334.9,310.0 336.2,312.6 337.5,306.7 338.8,314.7 340.1,311.8" fill="none" stroke="#111" stroke-width="0.9" stroke-linejoin="round"/>
<polyline points="53.3,481.3 53.4,479.6 53.5,482.0 53.6,483.4 53.7,484.9 53.8,481.9 53.9,479.9 54.0,479.0 54.1,482.6 54.2,484.6 54.3,480.8 54.4,476.6 54.5,477.0 54.6,483.4 54.7,479.5 54.8,474.2 54.9,478.3 55.0,475.2 55.1,476.4 55.2,476.5 55.3,475.7 55.4,478.8 55.5,477.0 55.6,475.4 55.7,477.8 55.8,478.7 55.9,472.0 56.0,475.4 56.1,473.4 56.2,475.3 56.3,472.2 56.4,475.4 56.5,475.1 56.6,474.2 56.7,472.1 56.8,473.6 56.9,471.6 57.0,470.7 57.1,474.7 57.2,471.0 57.3,476.8 57.4,475.4 57.5,468.2 57.6,473.9 57.7,470.1 57.8,472.9 57.9,472.8 58.0,467.3 58.1,471.7 58.2,471.5 58.3,474.4 58.4,468.7 58.5,473.5 58.6,468.6 58.7,470.4 58.8,468.9 58.9,474.7 59.0,472.2 59.1,476.9 59.2,472.1 59.3,472.5 59.4,472.3 59.5,468.4 59.6,469.6 59.7,473.1 59.8,468.4 59.9,469.8 60.0,469.1 60.1,470.5 60.2,467.9 60.3,468.2 60.4,469.1 60.5,468.6 60.6,465.9 60.7,470.3 60.8,464.5 60.9,464.6 61.0,464.2 61.1,469.9 61.2,466.3 61.3,464.6 61.4,464.0 61.5,467.9 61.6,463.9 61.7,463.2 61.8,467.9 61.9,463.1 62.0,465.2 62.1,465.9 62.2,464.6 62.3,465.5 62.4,468.9 62.5,464.0 62.6,461.9 62.7,460.2 62.8,464.3 62.9,463.8 63.0,465.3 63.1,463.2 63.2,463.0 63.3,462.3 63.4,462.6 63.5,464.3 63.6,462.7 63.7,463.8 63.8,468.4 63.9,464.5 64.0,459.0 64.1,467.5 64.2,463.8 64.3,460.3 64.4,464.9 64.5,462.5 64.6,460.7 64.7,460.5 64.8,459.5 64.9,462.0 65.0,464.6 65.1,460.8 65.2,462.6 65.3,466.3 65.4,458.1 65.5,461.8 65.6,460.2 65.7,458.1 65.8,458.1 65.9,460.6 66.0,461.6 66.1,459.0 66.2,460.4 66.3,462.0 66.4,460.7 66.5,462.1 66.6,460.9 66.7,460.9 66.8,464.2 66.9,461.0 67.0,459.6 67.1,460.9 67.2,456.6 67.3,458.0 67.4,460.8 67.5,460.2 67.6,462.5 67.7,458.3 67.8,454.4 67.9,463.1 68.0,460.8 68.1,455.0 68.2,461.2 68.3,457.6 68.4,452.7 68.5,456.2 68.6,455.8 68.7,461.1 68.8,454.8 68.9,456.0 69.0,455.8 69.1,455.4 69.2,453.9 69.3,456.7 69.4,458.8 69.5,457.5 69.6,453.3 69.7,452.6 69.8,455.7 69.9,453.4 70.0,453.5 70.1,450.6 70.2,459.9 70.3,457.0 70.4,452.0 70.5,456.7 70.6,457.7 70.7,447.8 70.8,452.4 70.9,452.7 71.0,455.2 71.1,453.1 71.2,452.6 71.3,452.9 71.4,457.7 71.5,458.3 71.6,451.2 71.7,450.0 71.8,459.2 71.9,449.5 72.0,450.4 72.1,451.8 72.2,452.8 72.3,454.1 72.4,452.3 72.5,448.8 72.6,452.2 72.7,451.4 72.8,455.5 72.9,450.4 73.0,446.8 73.1,447.4 73.2,453.7 73.3,448.4 73.4,444.1 73.5,447.9 73.6,449.3 73.7,452.2 73.8,446.3 73.9,450.5 74.0,450.7 74.1,446.7 74.2,447.8 74.3,452.8 74.4,452.5 74.5,450.1 74.6,448.6 74.7,450.5 74.8,447.1 74.9,447.0 75.0,444.9 75.1,447.0 75.2,446.6 75.3,453.9 75.4,446.1 75.5,449.7 75.6,449.7 75.7,445.7 75.8,449.0 75.9,440.2 76.0,446.0 76.1,447.8 76.2,439.2 76.3,442.3 76.4,447.9 76.5,444.4 76.6,442.1 76.7,443.8 76.8,443.3 76.9,446.4 77.0,445.6 77.1,443.5 77.2,442.4 77.3,443.9 77.4,447.3 77.5,444.7 77.6,445.3 77.7,443.1 77.8,440.0 77.9,441.4 78.0,444.8 78.1,443.3 78.2,440.5 78.3,438.5 78.4,442.9 78.5,441.6 78.6,441.5 78.7,441.4 78.8,442.9 78.9,442.8 79.0,444.4 79.1,444.2 79.2,445.1 79.3,443.6 79.4,440.5 79.5,441.1 79.6,442.5 79.7,440.2 79.8,442.4 79.9,443.8 80.0,438.6 80.1,436.0 80.2,443.6 80.3,440.4 80.4,442.1 80.5,436.6 80.6,444.5 80.7,441.8 80.8,439.4 80.9,438.7 81.0,439.8 81.1,439.0 81.2,438.6 81.3,436.3 81.4,442.3 81.5,438.8 81.6,439.0 81.7,438.9 81.8,432.5 81.9,439.8 82.0,437.5 82.1,437.5 82.2,438.3 82.3,435.5 82.4,440.1 82.5,436.0 82.6,435.3 82.7,435.3 82.8,437.9 82.9,439.3 83.0,435.7 83.1,433.2 83.2,439.7 83.3,434.1 83.4,439.9 83.5,436.5 83.6,434.7 83.7,434.8 83.8,437.5 83.9,438.5 84.0,435.6 84.1,438.4 84.2,441.3 84.3,435.2 84.4,432.7 84.5,432.8 84.6,431.8 84.7,433.7 84.8,433.3 84.9,431.7 85.0,436.4 85.1,428.1 85.2,431.4 85.3,439.9 85.4,437.3 85.5,435.9 85.6,435.6 85.7,438.9 85.8,435.6 85.9,434.3 86.0,430.8 86.1,433.7 86.2,431.9 86.3,431.8 86.4,431.7 86.5,433.4 86.6,432.5 86.7,435.6 86.8,429.7 86.9,432.7 87.0,437.8 87.1,433.0 87.2,435.9 87.3,435.7 87.4,436.0 87.5,434.4 87.6,428.8 87.7,431.6 87.8,431.2 87.9,428.1 88.0,430.8 88.1,428.7 88.2,427.5 88.3,432.3 88.4,431.5 88.5,429.8 88.6,429.0 88.7,430.0 88.8,430.3 88.9,430.1 89.0,431.0 89.1,429.9 89.2,431.9 89.3,432.2 89.4,431.6 89.5,428.9 89.6,428.9 89.7,431.6 89.8,429.8 89.9,430.1 90.0,423.7 90.1,423.1 90.2,430.9 90.3,430.8 90.4,433.4 90.5,431.6 90.6,430.2 90.7,429.6 90.8,425.8 90.9,431.7 91.0,427.8 91.1,430.6 91.2,429.7 91.3,429.8 91.4,431.3 91.5,427.7 91.6,427.9 91.7,426.6 91.8,427.7 91.9,433.0 92.0,427.6 92.1,431.6 92.2,430.6 92.3,430.3 92.4,430.4 92.5,425.6 92.6,429.2 92.7,432.3 92.8,426.3 92.9,427.9 93.0,426.2 93.1,428.8 93.2,425.1 93.3,432.0 93.4,426.8 93.5,423.7 93.6,432.3 93.7,430.1 93.8,428.9 93.9,428.9 94.0,426.5 94.1,426.8 94.2,429.2 94.3,429.6 94.4,429.6 94.5,427.7 94.6,425.9 94.7,426.5 94.8,429.9 94.9,430.7 95.0,426.0 95.1,425.6 95.2,430.0 95.3,428.6 95.4,428.5 95.5,423.2 95.6,425.6 95.7,425.2 95.8,427.0 95.9,422.0 96.0,429.7 96.1,427.1 96.2,427.4 96.3,423.2 96.4,426.1 96.5,429.6 96.6,422.0 96.7,426.9 96.8,427.9 96.9,424.2 97.0,428.1 97.1,425.1 97.2,429.1 97.3,427.3 97.4,426.5 97.5,431.1 97.6,428.0 97.7,429.2 97.8,422.7 97.9,424.1 98.0,427.9 98.1,428.1 98.2,425.6 98.3,427.7 98.4,423.0 98.5,426.3 98.6,422.7 98.7,426.6 98.8,424.4 98.9,424.0 99.0,425.8 99.1,430.4 99.2,423.1 99.3,424.1 99.4,428.5 99.5,424.6 99.6,430.3 99.7,426.3 99.8,426.0 99.9,426.7 100.0,430.3 100.1,427.5 100.2,427.1 100.3,426.4 100.4,421.7 100.5,423.5 100.6,429.7 100.7,428.0 100.8,427.2 100.9,427.5 101.0,424.5 101.1,426.8 101.2,423.6 101.3,427.0 101.4,424.1 101.5,425.4 101.6,427.2 101.7,425.2 101.8,427.7 101.9,427.2 102.0,427.0 102.1,429.5 102.2,422.3 102.3,422.0 102.4,427.8 102.5,428.6 102.6,431.4 102.7,428.2 102.8,428.4 102.9,424.0 103.0,428.2 103.1,428.1 103.2,423.6 103.3,424.0 103.4,426.1 103.5,427.2 103.6,418.8 103.7,426.7 103.8,427.1 103.9,426.1 104.0,427.3 104.1,427.8 104.2,424.0 104.3,427.7 104.4,426.0 104.5,424.2 104.6,427.3 104.7,430.6 104.8,423.0 104.9,422.6 105.0,422.6 105.1,432.1 105.2,426.3 105.3,426.9 105.4,425.1 105.5,424.7 105.6,422.0 105.7,427.8 105.8,428.1 105.9,422.3 106.0,424.8 106.1,425.7 106.2,427.7 106.3,428.5 106.4,430.8 106.5,431.5 106.6,430.9 106.7,431.7 106.8,425.3 106.9,427.0 107.0,431.5 107.1,429.4 107.2,428.8 107.3,423.7 107.4,424.1 107.5,430.9 107.6,430.0 107.7,428.5 107.8,428.3 107.9,425.0 108.0,430.6 108.1,432.4 108.2,434.1 108.3,430.1 108.4,429.6 108.5,427.4 108.6,433.5 108.7,434.9 108.8,429.0 108.9,431.5 109.0,431.1 109.1,429.5 109.2,424.6 109.3,430.3 109.4,432.9 109.5,427.7 109.6,429.4 109.7,423.4 109.8,435.1 109.9,433.2 110.0,432.2 110.1,431.5 110.2,430.6 110.3,432.2 110.4,431.7 110.5,432.0 110.6,432.6 110.7,433.2 110.8,437.0 110.9,429.3 111.0,433.9 111.1,431.7 111.2,430.5 111.3,427.4 111.4,435.3 111.5,431.3 111.6,432.0 111.7,435.3 111.8,431.4 111.9,434.4 112.0,434.4 113.2,437.2 114.4,439.0 115.6,438.0 116.8,441.4 118.0,441.2 119.2,442.3 120.4,442.4 121.6,444.1 122.8,442.1 124.0,444.2 125.2,445.6 126.4,444.2 127.6,447.2 128.8,444.1 130.0,445.3 131.2,444.5 132.4,444.2 133.6,443.4 134.8,443.9 136.0,444.2 137.2,443.0 138.4,444.7 139.6,444.9 140.8,440.3 142.0,442.2 143.2,440.6 144.4,440.0 145.6,442.0 146.8,439.8 148.0,438.1 149.2,437.2 150.4,433.8 151.6,436.6 152.8,434.2 154.0,434.7 155.2,434.1 156.4,434.6 157.6,435.3 158.8,433.6 160.0,433.5 161.2,431.3 162.4,431.8 163.6,431.9 164.8,428.9 166.0,432.8 167.2,429.2 168.4,428.3 169.6,431.5 170.8,431.7 172.0,428.0 173.2,427.7 174.4,431.8 175.6,427.7 176.8,424.7 178.0,425.7 179.2,428.3 180.4,426.1 181.6,425.6 182.8,425.5 184.0,424.3 185.2,422.5 186.4,420.5 187.6,422.4 188.8,420.0 190.0,420.8 191.2,422.4 192.4,420.5 193.6,419.4 194.8,419.0 196.0,419.3 197.2,419.1 198.4,416.0 199.6,417.4 200.0,420.1 201.3,418.0 202.6,414.9 203.9,414.7 205.2,411.8 206.5,413.8 207.8,417.7 209.1,414.4 210.4,412.7 211.7,413.0 213.0,413.7 214.3,413.5 215.6,412.9 216.9,412.0 218.2,414.4 219.5,415.9 220.8,412.0 222.1,412.0 223.4,415.0 224.7,410.2 226.0,411.7 227.3,412.1 228.6,413.1 229.9,412.4 231.2,411.4 232.5,413.6 233.8,411.0 235.1,410.1 236.4,409.8 237.7,414.9 239.0,410.5 240.3,414.6 241.6,415.2 242.9,415.6 244.2,414.0 245.5,413.5 246.8,414.9 248.1,413.9 249.4,412.9 250.7,417.6 252.0,414.0 253.3,419.0 254.6,416.9 255.9,415.2 257.2,417.0 258.5,418.5 259.8,413.9 261.1,414.8 262.4,414.6 263.7,416.9 265.0,417.4 266.3,416.8 267.6,415.5 268.9,416.0 270.2,419.2 271.5,419.2 272.8,417.7 274.1,415.4 275.4,419.3 276.7,419.0 278.0,419.2 279.3,422.0 280.6,420.4 281.9,417.0 283.2,416.8 284.5,420.7 285.8,418.4 287.1,419.4 288.4,417.5 289.7,415.8 291.0,417.9 292.3,420.1 293.6,417.7 294.9,414.9 296.2,416.2 297.5,415.7 298.8,416.7 300.1,418.1 301.4,419.6 302.7,416.2 304.0,414.9 305.3,415.6 306.6,415.2 307.9,414.2 309.2,414.8 310.5,414.5 311.8,412.2 313.1,415.1 314.4,413.2 315.7,411.9 317.0,414.4 318.3,412.5 319.6,416.3 320.9,413.9 322.2,413.0 323.5,411.3 324.8,411.8 326.1,413.9 327.4,411.0 328.7,413.5 330.0,408.3 331.3,412.4 332.6,413.5 333.9,412.6 335.2,412.0 336.5,413.9 337.8,410.5 339.1,410.3 340.4,412.2" fill="none" stroke="#111" stroke-width="0.9" stroke-linejoin="round"/>
<polyline points="52.5,560.0 52.8,558.0 53.0,562.4 53.2,560.5 53.5,566.0 53.8,561.7 54.0,566.9 54.2,563.8 54.5,567.8 54.8,564.1 55.0,565.1 55.2,560.4 55.5,562.4 55.8,557.9 56.1,557.0 56.4,558.8 56.7,555.5 57.0,559.4 57.3,558.8 57.6,559.6 57.9,554.5 58.2,557.5 58.5,551.4 58.8,551.2 59.1,553.0 59.4,553.1 59.7,548.0 60.0,547.3 60.3,552.2 60.6,548.8 60.9,553.7 61.2,551.3 61.5,550.8 61.8,550.2 62.1,551.7 62.4,548.7 62.7,551.6 63.0,547.2 63.3,547.7 63.6,546.3 63.9,549.2 64.2,547.6 64.5,545.1 64.8,552.0 65.1,545.9 65.4,546.3 65.7,547.4 66.0,550.6 66.3,545.6 66.6,547.6 66.9,545.8 67.2,541.7 67.5,547.1 67.8,547.4 68.1,544.0 68.4,544.3 68.7,540.3 69.0,539.9 69.3,542.4 69.6,544.5 69.9,541.2 70.2,542.5 70.5,543.5 70.8,540.6 71.1,541.0 71.4,542.5 71.7,535.0 72.0,539.4 72.3,532.2 72.6,537.5 72.9,536.6 73.2,534.4 73.5,532.8 73.8,535.0 74.1,533.9 74.4,534.9 74.7,532.2 75.0,535.6 75.3,531.5 75.6,533.1 75.9,532.7 76.2,536.6 76.5,529.5 76.8,532.0 77.1,535.8 77.4,531.0 77.7,529.3 78.0,532.9 78.3,531.3 78.6,533.9 78.9,529.3 79.2,531.9 79.5,532.9 79.8,533.6 80.1,528.1 80.4,534.2 80.7,528.2 81.0,526.5 81.3,527.7 81.6,530.3 81.9,528.9 82.2,530.6 82.5,530.5 82.8,529.9 83.1,528.2 83.4,533.1 83.7,522.8 84.0,523.8 84.3,526.6 84.6,524.4 84.9,520.9 85.2,525.1 85.5,524.9 85.8,520.4 86.1,528.5 86.4,529.3 86.7,529.0 87.0,524.4 87.3,525.9 87.6,522.5 87.9,525.7 88.2,523.4 88.5,526.0 88.8,524.0 89.1,527.4 89.4,526.8 89.7,527.7 90.0,520.5 90.3,519.9 90.6,525.4 90.9,522.9 91.2,525.3 91.5,525.0 91.8,524.6 92.1,526.4 92.4,525.5 92.7,525.2 93.0,521.7 93.3,528.1 93.6,524.0 93.9,526.4 94.2,524.3 94.5,526.5 94.8,523.6 95.1,523.5 95.4,523.2 95.7,520.8 96.0,521.0 96.3,521.8 96.6,521.7 96.9,519.3 97.2,527.5 97.5,519.0 97.8,520.5 98.1,527.3 98.4,519.4 98.7,522.9 99.0,522.6 99.3,520.4 99.6,517.4 99.9,517.1 100.2,521.2 100.5,522.4 100.8,516.2 101.1,522.3 101.4,520.6 101.7,524.8 102.0,523.3 102.3,521.2 102.6,522.5 102.9,524.0 103.2,527.6 103.5,532.1 103.8,525.7 104.1,525.4 104.4,527.2 104.7,525.8 105.0,527.8 105.3,527.5 105.6,526.9 105.9,525.2 106.2,528.0 106.5,530.1 106.8,528.4 107.1,532.4 107.4,531.3 107.7,528.9 108.0,533.9 108.3,527.1 108.6,533.2 108.9,535.2 109.2,530.3 109.5,531.0 109.8,534.0 110.1,535.6 110.4,533.5 110.7,533.3 111.0,535.4 111.3,534.1 111.6,530.8 111.9,533.6 112.2,534.4 112.5,531.0 112.8,536.1 113.1,533.6 113.4,537.7 113.7,532.4 114.0,534.2 114.3,533.1 114.6,540.3 114.9,540.6 115.2,541.4 115.5,541.8 115.8,540.7 116.1,541.0 116.4,534.8 116.7,540.2 117.0,538.5 117.3,539.3 117.6,537.3 117.9,544.0 118.2,541.5 118.5,537.8 118.8,543.1 119.1,542.0 119.4,540.0 119.7,542.2 120.0,541.4 120.3,537.9 120.6,540.2 120.9,545.6 121.2,545.6 121.5,545.7 121.8,542.4 122.1,544.2 122.4,546.2 122.7,548.1 123.0,544.5 123.3,544.3 123.6,550.0 123.9,547.6 124.2,546.8 124.5,546.1 124.8,546.6 125.1,552.5 125.4,551.2 125.7,548.0 126.0,546.1 126.3,553.7 126.6,553.6 126.9,552.9 127.2,552.2 127.5,545.6 127.8,547.2 128.1,552.0 128.4,550.0 128.7,551.5 129.0,549.6 129.3,549.4 129.6,552.5 129.9,550.2 130.2,551.2 130.5,551.9 130.8,551.9 131.1,554.3 131.4,554.9 131.7,548.1 132.0,550.9 132.3,550.0 132.6,553.5 132.9,549.0 133.2,553.7 133.5,553.5 133.8,553.2 134.1,549.4 134.4,551.3 134.7,549.2 135.0,552.9 135.3,554.3 135.6,548.2 135.9,549.9 136.2,551.6 136.5,550.7 136.8,555.7 137.1,551.6 137.4,552.6 137.7,549.2 138.0,555.8 138.3,552.3 138.6,553.7 138.9,551.9 139.2,546.3 139.5,547.5 139.8,548.2 140.0,552.3 140.6,550.1 141.2,551.7 141.8,551.1 142.4,550.7 143.0,551.8 143.6,550.0 144.2,546.0 144.8,547.6 145.4,552.0 146.0,546.2 146.6,550.7 147.2,550.9 147.8,545.9 148.4,547.4 149.0,543.4 149.6,547.3 150.2,543.7 150.8,542.2 151.4,543.6 152.0,543.0 152.6,542.3 153.2,543.5 153.8,542.3 154.4,540.8 155.0,543.6 155.6,546.1 156.2,540.9 156.8,538.9 157.4,537.9 158.0,540.6 158.6,538.5 159.2,538.7 159.8,534.3 160.4,535.7 161.0,535.4 161.6,539.3 162.2,536.6 162.8,531.9 163.4,537.6 164.0,538.7 164.6,538.8 165.2,530.4 165.8,536.1 166.4,537.2 167.0,536.5 167.6,534.7 168.2,531.3 168.8,533.9 169.4,533.9 170.0,535.6 170.6,535.5 171.2,533.6 171.8,535.6 172.4,531.6 173.0,532.2 173.6,533.3 174.2,534.2 174.8,532.2 175.4,535.1 176.0,533.2 176.6,530.2 177.2,531.9 177.8,529.7 178.4,529.2 179.0,528.0 179.6,533.3 180.0,534.2 180.4,523.3 180.9,534.5 181.3,533.6 181.8,527.7 182.2,531.2 182.7,538.3 183.1,529.7 183.6,529.9 184.0,532.6 184.5,523.0 184.9,521.7 185.4,520.7 185.8,526.0 186.3,529.6 186.7,521.9 187.2,519.3 187.6,525.7 188.1,523.0 188.5,526.8 189.0,523.3 189.4,522.8 189.9,523.0 190.0,542.6 190.3,523.2 190.6,530.0 190.8,518.8 191.2,517.9 191.7,529.2 191.7,512.5 192.1,535.5 192.6,526.9 193.0,515.1 193.5,522.0 193.9,526.8 194.4,514.7 194.8,519.4 195.3,519.6 195.7,517.4 196.2,517.6 196.6,525.3 197.1,519.0 197.5,519.9 198.0,528.0 198.4,517.0 198.9,512.4 199.3,523.2 199.8,528.9 200.2,521.1 200.7,521.4 201.1,514.5 201.6,515.9 202.0,526.0 202.5,525.0 202.9,522.0 203.4,516.6 203.8,514.2 204.3,514.7 204.7,514.0 205.2,521.5 205.6,515.4 206.1,516.5 206.5,521.5 207.0,521.3 207.4,518.5 207.9,520.2 208.3,518.1 208.8,509.8 209.2,517.6 209.7,516.1 210.1,516.3 210.6,518.9 211.0,515.4 211.5,523.0 211.9,517.1 212.4,518.5 212.8,519.3 213.3,517.2 213.7,520.7 214.2,521.2 214.6,520.7 215.1,515.0 215.5,514.3 216.0,515.6 216.4,518.2 216.9,510.3 217.3,514.8 217.8,513.5 218.2,515.6 218.7,514.7 219.1,522.1 219.6,520.7 220.0,522.9 220.5,514.8 220.9,515.8 221.4,518.1 221.8,526.7 222.3,527.0 222.7,517.6 223.2,523.2 223.6,530.0 224.1,516.8 224.5,520.6 225.0,527.2 225.4,525.0 225.9,517.9 226.3,528.7 226.8,526.5 227.2,525.2 227.7,517.0 228.1,521.6 228.6,527.9 229.0,524.4 229.5,525.7 229.9,521.1 230.0,523.4 231.5,522.1 233.0,522.6 234.5,521.7 236.0,520.5 237.5,522.8 239.0,521.5 240.0,522.6 241.7,524.2 243.0,523.0 244.2,525.9 245.9,522.6 247.5,524.2 249.2,526.7 250.6,525.5 252.0,528.4 253.3,526.0 254.7,523.4 255.9,525.0 257.1,520.0 258.1,523.4 259.2,518.4 260.1,517.5 260.9,536.8 261.7,530.1 263.4,529.2 265.1,521.7 266.4,523.4 267.6,518.4 268.4,520.9 270.1,525.1 271.8,528.4 273.1,525.9 274.3,526.7 275.5,525.1 276.8,530.1 278.1,529.2 279.3,532.6 280.1,535.9 281.5,531.8 282.6,528.4 284.3,530.1 286.0,529.2 287.2,531.8 288.5,527.6 290.2,526.7 291.8,525.9 293.3,525.9 295.0,527.6 296.7,531.8 298.4,526.7 300.0,527.6 301.7,525.9 303.4,528.4 305.0,526.7 306.7,523.4 307.6,528.4 308.7,530.1 310.1,536.8 311.4,531.8 312.6,524.2 313.7,523.4 315.1,525.1 316.0,527.6 317.1,524.2 318.1,534.3 319.3,529.2 320.4,527.6 321.8,525.9 323.1,530.1 323.9,543.5 324.8,528.4 326.0,525.9 327.6,525.1 328.8,520.9 330.1,514.2 331.0,518.4 331.8,536.8 332.6,526.7 333.8,540.1 334.8,526.7" fill="none" stroke="#111" stroke-width="0.9" stroke-linejoin="round"/>
<polyline points="52.5,649.8 52.9,643.1 53.7,645.0 54.6,656.5 55.0,641.4 55.8,626.4 56.5,633.1 57.1,638.1 57.9,636.4 58.8,639.7 59.6,636.4 60.4,640.6 61.3,633.9 62.1,644.8 62.9,633.1 63.8,619.7 64.6,629.7 65.5,625.5 66.3,628.9 67.1,633.1 68.0,629.7 68.8,631.4 69.6,627.2 70.5,618.9 71.3,622.2 72.1,613.8 73.0,622.2 73.8,627.2 74.6,620.5 75.5,627.2 76.3,629.7 77.1,631.4 78.0,624.7 78.8,637.2 79.7,622.2 80.6,628.0 81.4,617.8 82.0,627.6 82.9,624.0 83.8,630.3 84.4,634.8 85.1,628.5 86.0,622.3 86.9,625.9 87.8,629.4 88.7,632.1 89.6,627.6 90.5,625.9 91.4,621.4 92.3,624.1 93.2,626.8 94.1,621.4 94.8,618.7 95.4,630.3 96.3,625.9 97.2,619.6 97.8,626.8 98.5,618.7 99.2,627.6 99.9,621.4 100.8,625.9 101.7,616.0 102.6,624.1 103.2,629.4 103.9,634.8 104.5,645.5 105.2,634.8 105.9,622.3 106.6,630.3 107.5,625.9 108.4,643.7 109.3,628.5 110.2,630.0 111.0,630.7 112.2,631.8 113.4,631.5 114.6,631.4 115.8,633.4 117.0,633.3 118.2,636.4 119.4,639.9 120.6,637.2 121.8,637.8 123.0,640.8 124.2,641.3 125.4,641.5 126.6,639.9 127.8,641.6 129.0,642.6 130.2,637.8 131.4,638.8 132.6,635.2 133.8,635.7 135.0,633.8 136.2,636.3 137.4,633.7 138.6,636.4 139.8,636.0 140.0,635.2 141.3,630.1 142.6,634.1 143.9,634.9 145.2,635.0 146.5,631.2 147.8,633.2 149.1,631.8 150.4,631.9 151.7,635.4 153.0,631.2 154.3,632.5 155.6,634.0 156.9,630.5 158.2,631.1 159.5,631.1 160.8,630.4 162.1,627.1 163.4,629.3 164.7,631.4 166.0,624.8 167.3,629.4 168.6,627.4 169.9,625.5 171.2,630.8 172.5,627.9 173.8,623.6 175.1,626.1 176.4,626.9 177.7,625.1 179.0,626.8 180.3,625.1 181.6,626.6 182.9,628.1 184.2,623.7 185.5,625.5 186.8,624.1 188.1,625.4 189.4,622.6 190.7,623.9 192.0,624.7 193.3,627.0 194.6,627.5 195.9,622.3 197.2,623.4 198.5,626.4 199.8,620.8 201.1,623.9 202.4,624.5 203.7,627.2 205.0,625.9 206.3,623.6 207.6,623.4 208.9,623.6 210.2,627.3 211.5,623.3 212.8,623.8 214.1,625.5 215.4,624.9 216.7,625.3 218.0,623.9 219.3,626.8 220.6,626.4 221.9,630.3 223.2,629.7 224.5,628.6 225.8,630.4 227.1,628.5 228.4,631.7 229.7,629.8 231.0,631.3 232.3,627.6 233.6,631.4 234.9,627.5 235.0,627.5 236.3,631.7 237.5,630.0 238.7,635.9 240.0,633.4 241.4,632.5 242.5,636.7 243.7,637.6 245.0,635.0 246.4,632.5 247.5,633.4 248.7,638.4 250.0,635.9 251.7,638.4 253.1,633.4 254.2,632.5 255.4,640.1 256.7,646.8 258.1,643.4 259.2,646.8 260.5,643.4 261.8,638.4 263.1,636.7 264.3,645.1 265.5,644.3 266.8,646.8 268.0,645.1 269.3,640.1 270.5,637.6 271.8,643.4 273.1,646.8 274.3,643.4 275.5,640.9 276.8,645.1 278.1,642.6 279.3,641.7 280.5,645.1 281.8,640.9 283.1,645.1 284.3,640.1 285.5,646.8 286.8,641.7 288.1,640.1 289.3,643.4 290.2,641.0 290.8,643.4 292.0,635.9 293.0,637.6 294.2,635.1 295.4,636.7 296.7,635.9 298.0,631.7 299.2,634.2 300.4,638.4 301.7,633.4 303.0,636.7 304.2,638.4 305.4,634.2 306.7,630.9 308.1,630.0 309.2,633.4 310.4,640.1 311.4,633.4 312.6,630.9 313.7,633.4 315.1,630.9 316.4,634.2 317.6,636.7 318.8,632.6 320.1,634.2 321.4,637.6 322.6,633.4 323.8,635.1 325.1,635.9 326.3,634.2 327.6,636.7 328.8,638.4 330.1,632.6 331.5,630.0 332.6,633.4 333.8,629.2 334.8,635.9 336.0,629.2 337.2,630.9 338.5,632.6 339.8,633.4 341.0,631.7" fill="none" stroke="#111" stroke-width="0.9" stroke-linejoin="round"/>
<polyline points="45.0,134.7 46.0,128.4 47.0,122.9 48.0,118.8 49.0,115.6 50.0,112.9 51.0,110.6 52.0,108.5 53.0,106.6 54.0,104.8 55.0,103.3 56.0,101.9 57.0,100.8 58.0,99.8 59.0,98.8 60.0,97.9 61.0,96.9 62.0,95.9 63.0,94.9 64.0,93.9 65.0,92.9 66.0,91.9 67.0,90.9 68.0,89.9 69.0,89.0 70.0,88.0 71.0,87.1 72.0,86.4 73.0,85.8 74.0,85.3 75.0,84.9 76.0,84.5 77.0,84.1 78.0,83.8 79.0,83.4 80.0,83.0 81.0,82.6 82.0,82.2 83.0,81.8 84.0,81.5 85.0,81.1 86.0,80.7 87.0,80.2 88.0,79.8 89.0,79.4 90.0,79.0 91.0,78.7 92.0,78.4 93.0,78.1 94.0,77.8 95.0,77.6 96.0,77.5 97.0,77.5 98.0,77.7 99.0,78.0 100.0,78.3 101.0,78.6 102.0,78.9 103.0,79.2 104.0,79.7 105.0,80.2 106.0,80.9 107.0,81.9 108.0,82.9 109.0,84.0 110.0,85.3 111.0,86.8 112.0,88.4 113.0,90.0 114.0,91.5 115.0,93.1 116.0,94.8 117.0,96.3 118.0,97.5 119.0,98.6 120.0,99.6 121.0,100.6 122.0,101.4 123.0,102.3 124.0,103.2 125.0,104.1 126.0,104.8 127.0,105.2 128.0,105.6 129.0,105.9 130.0,106.1 131.0,106.2 132.0,106.2 133.0,106.2 134.0,106.2 135.0,106.2 136.0,106.2 137.0,106.1 138.0,106.0 139.0,105.8 140.0,105.6 141.0,105.4 142.0,105.1 143.0,104.8 144.0,104.5 145.0,104.3 146.0,103.9 147.0,103.6 148.0,103.2 149.0,102.8 150.0,102.4 151.0,101.9 152.0,101.4 153.0,100.9 154.0,100.3 155.0,99.6 156.0,98.9 157.0,98.1 158.0,97.2 159.0,96.4 160.0,95.5 161.0,94.8 162.0,94.1 163.0,93.6 164.0,93.1 165.0,92.7 166.0,92.2 167.0,91.9 168.0,91.5 169.0,91.1 170.0,90.7 171.0,90.2 172.0,89.8 173.0,89.3 174.0,88.8 175.0,88.3 176.0,87.8 177.0,87.3 178.0,86.8 179.0,86.2 180.0,85.6 181.0,84.9 182.0,84.2 183.0,83.4 184.0,82.6 185.0,81.7 186.0,80.8 187.0,80.0 188.0,79.1 189.0,78.3 190.0,77.6 191.0,76.9 192.0,76.2 193.0,75.4 194.0,74.7 195.0,74.0 196.0,73.4 197.0,72.7 198.0,72.2 199.0,71.7 200.0,71.3 201.0,70.9 202.0,70.6 203.0,70.2 204.0,69.9 205.0,69.6 206.0,69.3 207.0,69.1 208.0,69.0 209.0,68.8 210.0,68.8 211.0,68.8 212.0,68.8 213.0,68.8 214.0,68.8 215.0,68.8 216.0,68.8 217.0,68.8 218.0,68.8 219.0,68.9 220.0,69.1 221.0,69.3 222.0,69.6 223.0,69.9 224.0,70.2 225.0,70.5 226.0,70.8 227.0,71.1 228.0,71.4 229.0,71.7 230.0,72.1 231.0,72.4 232.0,72.8 233.0,73.1 234.0,73.4 235.0,73.7 236.0,74.0 237.0,74.3 238.0,74.5 239.0,74.8 240.0,75.0 241.0,75.3 242.0,75.5 243.0,75.7 244.0,76.0 245.0,76.2 246.0,76.5 247.0,76.8 248.0,77.1 249.0,77.5 250.0,77.8 251.0,78.1 252.0,78.4 253.0,78.7 254.0,79.0 255.0,79.3 256.0,79.5 257.0,79.7 258.0,79.9 259.0,80.2 260.0,80.4 261.0,80.5 262.0,80.7 263.0,80.9 264.0,81.0 265.0,81.0 266.0,81.1 267.0,81.2 268.0,81.2 269.0,81.3 270.0,81.3 271.0,81.4 272.0,81.4 273.0,81.5 274.0,81.5 275.0,81.5 276.0,81.5 277.0,81.5 278.0,81.5 279.0,81.4 280.0,81.4 281.0,81.3 282.0,81.3 283.0,81.2 284.0,81.1 285.0,81.1 286.0,81.0 287.0,80.9 288.0,80.8 289.0,80.7 290.0,80.6 291.0,80.5 292.0,80.4 293.0,80.2 294.0,80.1 295.0,79.9 296.0,79.8 297.0,79.6 298.0,79.5 299.0,79.3 300.0,79.2 301.0,79.0 302.0,78.9 303.0,78.8 304.0,78.6 305.0,78.5 306.0,78.4 307.0,78.2 308.0,78.1 309.0,77.9 310.0,77.8 311.0,77.7 312.0,77.5 313.0,77.4 314.0,77.3 315.0,77.1 316.0,77.0 317.0,76.9 318.0,76.7 319.0,76.6 320.0,76.5 321.0,76.3 322.0,76.2 323.0,76.1 324.0,76.0 325.0,75.8 326.0,75.7 327.0,75.6 328.0,75.5 329.0,75.3 330.0,75.2 331.0,75.1 332.0,75.0 333.0,74.9 334.0,74.8 335.0,74.6 336.0,74.5 337.0,74.4 338.0,74.3 339.0,74.2 340.0,74.1 341.0,74.0 342.0,73.9 343.0,73.8 344.0,73.8 345.0,73.7 346.0,73.6 347.0,73.5 348.0,73.4 348.5,73.4" fill="none" stroke="#ec9535" stroke-width="1.0" stroke-linejoin="round"/>
<polyline points="41.0,236.6 42.0,235.3 43.0,234.1 44.0,232.8 45.0,231.5 46.0,230.2 47.0,229.0 48.0,227.7 49.0,226.3 50.0,224.8 51.0,223.1 52.0,221.4 53.0,219.5 54.0,217.6 55.0,215.6 56.0,213.4 57.0,211.3 58.0,209.3 59.0,207.3 60.0,205.5 61.0,204.0 62.0,202.6 63.0,201.2 64.0,199.3 65.0,197.2 66.0,195.0 67.0,192.6 68.0,190.3 69.0,188.1 70.0,185.9 71.0,183.7 72.0,181.5 73.0,179.4 74.0,177.5 75.0,175.7 76.0,173.9 77.0,172.1 78.0,170.4 79.0,168.9 80.0,167.4 81.0,166.1 82.0,164.8 83.0,163.7 84.0,162.6 85.0,161.5 86.0,160.6 87.0,159.6 88.0,158.8 89.0,158.0 90.0,157.2 91.0,156.4 92.0,155.7 93.0,155.0 94.0,154.4 95.0,154.0 96.0,153.7 97.0,153.5 98.0,153.4 99.0,153.2 100.0,153.1 101.0,153.1 102.0,153.4 103.0,154.2 104.0,155.1 105.0,155.9 106.0,156.8 107.0,157.9 108.0,159.0 109.0,160.3 110.0,162.0 111.0,163.9 112.0,165.8 113.0,167.7 114.0,169.5 115.0,171.4 116.0,173.2 117.0,174.7 118.0,176.0 119.0,177.2 120.0,178.2 121.0,179.1 122.0,179.6 123.0,180.1 124.0,180.4 125.0,180.6 126.0,180.5 127.0,180.2 128.0,179.7 129.0,179.1 130.0,178.2 131.0,177.2 132.0,176.1 133.0,174.9 134.0,173.5 135.0,172.3 136.0,171.2 137.0,170.1 138.0,169.0 139.0,167.9 140.0,166.9 141.0,165.9 142.0,164.8 143.0,163.7 144.0,162.7 145.0,161.9 146.0,161.1 147.0,160.4 148.0,159.7 149.0,159.1 150.0,158.5 151.0,158.0 152.0,157.4 153.0,156.9 154.0,156.4 155.0,156.0 156.0,155.6 157.0,155.2 158.0,154.8 159.0,154.5 160.0,154.2 161.0,153.9 162.0,153.7 163.0,153.4 164.0,153.2 165.0,153.0 166.0,152.8 167.0,152.5 168.0,152.3 169.0,152.1 170.0,151.8 171.0,151.6 172.0,151.3 173.0,151.0 174.0,150.7 175.0,150.4 176.0,150.1 177.0,149.8 178.0,149.5 179.0,149.2 180.0,148.8 181.0,148.5 182.0,148.2 183.0,147.9 184.0,147.7 185.0,147.4 186.0,147.1 187.0,146.8 188.0,146.5 189.0,146.2 190.0,145.9 191.0,145.6 192.0,145.3 193.0,145.1 194.0,144.8 195.0,144.5 196.0,144.3 197.0,144.1 198.0,143.9 199.0,143.6 200.0,143.4 201.0,143.1 202.0,142.9 203.0,142.7 204.0,142.5 205.0,142.3 206.0,142.1 207.0,141.9 208.0,141.8 209.0,141.7 210.0,141.7 211.0,141.7 212.0,141.7 213.0,141.8 214.0,141.9 215.0,142.0 216.0,142.1 217.0,142.2 218.0,142.3 219.0,142.5 220.0,142.7 221.0,142.8 222.0,143.1 223.0,143.5 224.0,144.0 225.0,144.5 226.0,145.1 227.0,145.6 228.0,146.2 229.0,146.7 230.0,147.2 231.0,147.7 232.0,148.1 233.0,148.6 234.0,149.0 235.0,149.5 236.0,149.9 237.0,150.3 238.0,150.8 239.0,151.2 240.0,151.7 241.0,152.1 242.0,152.5 243.0,153.0 244.0,153.5 245.0,154.0 246.0,154.5 247.0,154.9 248.0,155.4 249.0,155.9 250.0,156.3 251.0,156.6 252.0,157.0 253.0,157.2 254.0,157.4 255.0,157.6 256.0,157.8 257.0,157.9 258.0,158.1 259.0,158.2 260.0,158.3 261.0,158.3 262.0,158.3 263.0,158.3 264.0,158.3 265.0,158.3 266.0,158.3 267.0,158.3 268.0,158.3 269.0,158.3 270.0,158.3 271.0,158.3 272.0,158.3 273.0,158.3 274.0,158.3 275.0,158.2 276.0,158.1 277.0,157.9 278.0,157.7 279.0,157.5 280.0,157.3 281.0,157.0 282.0,156.8 283.0,156.5 284.0,156.3 285.0,156.0 286.0,155.8 287.0,155.6 288.0,155.4 289.0,155.1 290.0,154.9 291.0,154.7 292.0,154.5 293.0,154.2 294.0,154.0 295.0,153.7 296.0,153.5 297.0,153.3 298.0,153.0 299.0,152.8 300.0,152.5 301.0,152.3 302.0,152.0 303.0,151.8 304.0,151.5 305.0,151.2 306.0,151.0 307.0,150.7 308.0,150.4 309.0,150.2 310.0,149.9 311.0,149.6 312.0,149.4 313.0,149.1 314.0,148.9 315.0,148.6 316.0,148.4 317.0,148.1 318.0,147.9 319.0,147.7 320.0,147.5 321.0,147.2 322.0,147.0 323.0,146.8 324.0,146.6 325.0,146.4 326.0,146.2 327.0,146.0 328.0,145.8 329.0,145.6 330.0,145.4 331.0,145.2 332.0,145.0 333.0,144.8 334.0,144.6 335.0,144.4 336.0,144.2 337.0,144.0 338.0,143.8 339.0,143.6 340.0,143.4 341.0,143.2 342.0,143.0 343.0,142.8 344.0,142.6 345.0,142.5 346.0,142.3 347.0,142.1 348.0,141.9 348.5,141.8" fill="none" stroke="#ec9535" stroke-width="1.0" stroke-linejoin="round"/>
<polyline points="43.6,329.4 44.6,325.6 45.6,321.9 46.6,318.2 47.6,314.6 48.6,311.1 49.6,307.7 50.6,304.3 51.6,301.2 52.6,298.3 53.6,295.6 54.6,293.3 55.6,291.7 56.6,290.4 57.6,289.3 58.6,288.1 59.6,286.9 60.6,285.6 61.6,284.3 62.6,283.1 63.6,281.9 64.6,280.7 65.6,279.2 66.6,277.4 67.6,275.6 68.6,273.9 69.6,272.2 70.6,270.6 71.6,269.3 72.6,268.3 73.6,267.4 74.6,266.6 75.6,266.0 76.6,265.5 77.6,265.0 78.6,264.5 79.6,264.1 80.6,263.6 81.6,263.2 82.6,262.8 83.6,262.4 84.6,262.1 85.6,261.8 86.6,261.5 87.6,261.2 88.6,260.9 89.6,260.6 90.6,260.3 91.6,259.9 92.6,259.6 93.6,259.3 94.6,259.2 95.6,259.2 96.6,259.3 97.6,259.5 98.6,259.7 99.6,259.9 100.6,260.5 101.6,260.5 102.6,261.4 103.6,261.5 104.6,261.3 105.6,261.9 106.6,263.0 107.6,264.0 108.6,264.1 109.6,264.8 110.6,266.1 111.6,266.5 112.6,267.4 113.6,268.8 114.6,270.2 115.6,271.4 116.6,272.4 117.6,273.5 118.6,275.1 119.6,277.0 120.6,278.6 121.6,279.4 122.6,279.6 123.6,279.5 124.6,279.0 125.6,278.2 126.6,277.9 127.6,277.7 128.6,277.5 129.6,277.2 130.6,277.2 131.6,277.5 132.6,277.2 133.6,276.7 134.6,276.1 135.6,276.5 136.6,276.9 137.6,277.3 138.6,277.9 139.6,277.6 140.6,276.7 141.6,276.4 142.6,275.9 143.6,275.0 144.6,273.6 145.6,273.1 146.6,273.0 147.6,273.3 148.6,272.8 149.6,271.3 150.6,270.2 151.6,268.9 152.6,267.5 153.6,266.4 154.6,265.3 155.6,264.5 156.6,264.2 157.6,263.8 158.6,263.4 159.6,263.3 160.6,263.1 161.6,263.0 162.6,262.1 163.6,261.4 164.6,260.9 165.6,260.6 166.6,260.3 167.6,260.0 168.6,259.4 169.6,259.4 170.6,259.5 171.6,259.1 172.6,259.1 173.6,259.2 174.6,258.6 175.6,258.4 176.6,258.3 177.6,257.9 178.6,257.2 179.6,256.5 180.6,256.1 181.6,255.7 182.6,255.2 183.6,254.8 184.6,254.8 185.6,254.8 186.6,254.1 187.6,253.8 188.6,253.5 189.6,253.1 190.6,253.2 191.6,253.5 192.6,252.7 193.6,252.4 194.6,252.2 195.6,251.7 196.6,251.6 197.6,251.6 198.6,251.1 199.6,250.7 200.6,250.3 201.6,249.6 202.6,249.2 203.6,249.1 204.6,249.2 205.6,249.3 206.6,249.1 207.6,248.2 208.6,248.2 209.6,248.5 210.6,248.5 211.6,248.8 212.6,249.5 213.6,248.4 214.6,248.2 215.6,248.4 216.6,248.4 217.6,248.6 218.6,249.2 219.6,249.4 220.6,249.3 221.6,249.1 222.6,249.7 223.6,250.1 224.6,250.2 225.6,249.6 226.6,249.6 227.6,249.9 228.6,249.8 229.6,249.8 230.6,249.7 231.6,249.9 232.6,250.1 233.6,250.2 234.6,250.0 235.6,250.1 236.6,250.6 237.6,251.1 238.6,251.0 239.6,250.9 240.6,251.2 241.6,251.5 242.6,251.7 243.6,252.3 244.6,252.5 245.6,252.6 246.6,253.1 247.6,253.1 248.6,253.0 249.6,252.9 250.6,253.2 251.6,253.8 252.6,253.7 253.6,253.9 254.6,254.3 255.6,254.2 256.6,253.7 257.6,253.0 258.6,253.1 259.6,253.5 260.6,253.9 261.6,253.7 262.6,253.4 263.6,253.1 264.6,253.5 265.6,254.0 266.6,254.3 267.6,254.2 268.6,253.9 269.6,253.6 270.6,253.9 271.6,254.1 272.6,254.2 273.6,253.8 274.6,253.9 275.6,254.2 276.6,253.3 277.6,253.4 278.6,253.9 279.6,253.7 280.6,253.3 281.6,252.9 282.6,252.8 283.6,252.6 284.6,252.5 285.6,252.1 286.6,252.3 287.6,252.7 288.6,252.7 289.6,252.7 290.6,252.5 291.6,252.4 292.6,252.3 293.6,252.2 294.6,251.9 295.6,251.9 296.6,251.9 297.6,251.7 298.6,251.8 299.6,252.3 300.6,251.9 301.6,252.0 302.6,252.4 303.6,252.0 304.6,252.1 305.6,252.6 306.6,252.6 307.6,252.6 308.6,252.6 309.6,252.6 310.6,252.3 311.6,252.0 312.6,252.0 313.6,252.0 314.6,252.1 315.6,253.1 316.6,254.4 317.6,255.5 318.6,255.5 319.6,256.1 320.6,256.9 321.6,256.1 322.6,255.5 323.6,255.4 324.6,255.6 325.6,255.6 326.6,255.5 327.6,254.9 328.6,254.4 329.6,254.1 330.6,254.6 331.6,254.3 332.6,253.4 333.6,253.8 334.6,253.7 335.6,253.2 336.6,252.9 337.6,252.7 338.6,252.6 339.6,252.1 340.6,251.7 341.6,251.6 342.6,251.8 343.6,251.6 344.6,251.1 345.6,251.0 346.6,251.1 347.5,251.5" fill="none" stroke="#ec9535" stroke-width="1.0" stroke-linejoin="round"/>
<polyline points="38.0,415.0 39.0,416.4 40.0,417.2 41.0,417.1 42.0,416.6 43.0,416.0 44.0,415.2 45.0,414.3 46.0,413.3 47.0,412.1 48.0,410.7 49.0,409.2 50.0,407.7 51.0,406.0 52.0,404.2 53.0,402.4 54.0,400.6 55.0,398.8 56.0,396.9 57.0,395.2 58.0,393.5 59.0,392.0 60.0,390.6 61.0,389.3 62.0,387.9 63.0,386.5 64.0,385.2 65.0,383.5 66.0,381.0 67.0,377.8 68.0,374.6 69.0,371.7 70.0,369.0 71.0,366.4 72.0,363.7 73.0,361.1 74.0,358.5 75.0,355.9 76.0,353.2 77.0,350.4 78.0,347.7 79.0,345.1 80.0,342.6 81.0,340.4 82.0,338.6 83.0,336.9 84.0,335.5 85.0,334.3 86.0,333.3 87.0,332.4 88.0,331.3 89.0,330.1 90.0,328.7 91.0,327.4 92.0,326.0 93.0,324.9 94.0,323.9 95.0,323.1 96.0,322.2 97.0,321.5 98.0,320.9 99.0,320.6 100.0,320.6 101.0,320.6 102.0,320.6 103.0,320.6 104.0,320.7 105.0,321.3 106.0,322.4 107.0,323.5 108.0,324.6 109.0,325.9 110.0,327.3 111.0,328.7 112.0,330.1 113.0,331.4 114.0,332.8 115.0,334.1 116.0,335.4 117.0,336.8 118.0,338.2 119.0,339.6 120.0,340.9 121.0,341.9 122.0,342.7 123.0,343.4 124.0,344.0 125.0,344.6 126.0,344.9 127.0,345.1 128.0,345.1 129.0,345.0 130.0,344.8 131.0,344.6 132.0,344.4 133.0,344.3 134.0,344.1 135.0,344.0 136.0,343.8 137.0,343.6 138.0,343.4 139.0,343.0 140.0,342.3 141.0,341.5 142.0,340.6 143.0,339.8 144.0,339.1 145.0,338.3 146.0,337.6 147.0,336.9 148.0,336.2 149.0,335.4 150.0,334.7 151.0,334.0 152.0,333.3 153.0,332.6 154.0,331.9 155.0,331.2 156.0,330.6 157.0,330.0 158.0,329.4 159.0,328.8 160.0,328.2 161.0,327.6 162.0,327.0 163.0,326.5 164.0,325.9 165.0,325.4 166.0,324.9 167.0,324.4 168.0,323.9 169.0,323.3 170.0,322.8 171.0,322.4 172.0,321.9 173.0,321.4 174.0,321.0 175.0,320.5 176.0,320.1 177.0,319.6 178.0,319.2 179.0,318.8 180.0,318.3 181.0,317.9 182.0,317.5 183.0,317.0 184.0,316.6 185.0,316.1 186.0,315.6 187.0,315.2 188.0,314.7 189.0,314.2 190.0,313.7 191.0,313.3 192.0,312.8 193.0,312.4 194.0,311.9 195.0,311.5 196.0,311.1 197.0,310.7 198.0,310.2 199.0,309.8 200.0,309.4 201.0,308.9 202.0,308.4 203.0,308.0 204.0,307.6 205.0,307.2 206.0,306.9 207.0,306.6 208.0,306.3 209.0,306.2 210.0,306.1 211.0,306.1 212.0,306.1 213.0,306.2 214.0,306.2 215.0,306.3 216.0,306.3 217.0,306.4 218.0,306.5 219.0,306.6 220.0,306.7 221.0,306.8 222.0,306.9 223.0,307.1 224.0,307.4 225.0,307.6 226.0,307.9 227.0,308.3 228.0,308.6 229.0,308.9 230.0,309.3 231.0,309.7 232.0,310.1 233.0,310.6 234.0,311.1 235.0,311.6 236.0,312.2 237.0,312.7 238.0,313.3 239.0,313.8 240.0,314.3 241.0,314.8 242.0,315.2 243.0,315.7 244.0,316.1 245.0,316.5 246.0,316.9 247.0,317.3 248.0,317.8 249.0,318.2 250.0,318.6 251.0,319.0 252.0,319.4 253.0,319.8 254.0,320.2 255.0,320.7 256.0,321.1 257.0,321.6 258.0,322.1 259.0,322.5 260.0,322.9 261.0,323.3 262.0,323.7 263.0,324.0 264.0,324.2 265.0,324.4 266.0,324.6 267.0,324.7 268.0,324.9 269.0,325.0 270.0,325.1 271.0,325.2 272.0,325.2 273.0,325.2 274.0,325.1 275.0,325.0 276.0,324.9 277.0,324.8 278.0,324.6 279.0,324.5 280.0,324.3 281.0,324.1 282.0,323.9 283.0,323.6 284.0,323.3 285.0,323.0 286.0,322.7 287.0,322.4 288.0,322.1 289.0,321.8 290.0,321.6 291.0,321.3 292.0,321.1 293.0,320.8 294.0,320.6 295.0,320.4 296.0,320.1 297.0,319.9 298.0,319.7 299.0,319.5 300.0,319.3 301.0,319.1 302.0,318.9 303.0,318.6 304.0,318.4 305.0,318.2 306.0,318.0 307.0,317.8 308.0,317.6 309.0,317.3 310.0,317.1 311.0,316.9 312.0,316.8 313.0,316.6 314.0,316.4 315.0,316.2 316.0,316.1 317.0,316.0 318.0,315.8 319.0,315.7 320.0,315.6 321.0,315.4 322.0,315.3 323.0,315.2 324.0,315.0 325.0,314.9 326.0,314.8 327.0,314.7 328.0,314.7 329.0,314.6 330.0,314.5 331.0,314.5 332.0,314.5 333.0,314.5 334.0,314.5 335.0,314.5 336.0,314.5 337.0,314.5 338.0,314.5 339.0,314.5 340.0,314.6 341.0,314.6 342.0,314.6 343.0,314.6 344.0,314.7 345.0,314.7 346.0,314.8 347.0,314.9 348.0,315.0 348.5,315.0" fill="none" stroke="#ec9535" stroke-width="1.0" stroke-linejoin="round"/>
<polyline points="38.0,481.4 39.0,482.3 40.0,482.6 41.0,482.2 42.0,481.0 43.0,479.4 44.0,478.1 45.0,476.7 46.0,475.3 47.0,473.8 48.0,472.5 49.0,471.3 50.0,470.1 51.0,469.0 52.0,468.1 53.0,467.3 54.0,466.6 55.0,465.7 56.0,464.7 57.0,463.6 58.0,462.5 59.0,461.3 60.0,460.2 61.0,459.2 62.0,458.2 63.0,457.2 64.0,456.2 65.0,455.2 66.0,454.2 67.0,453.2 68.0,452.2 69.0,451.1 70.0,450.1 71.0,449.1 72.0,448.1 73.0,447.1 74.0,446.0 75.0,445.0 76.0,444.1 77.0,443.2 78.0,442.4 79.0,441.6 80.0,440.8 81.0,440.1 82.0,439.4 83.0,438.7 84.0,438.1 85.0,437.4 86.0,436.8 87.0,436.3 88.0,435.7 89.0,435.3 90.0,434.8 91.0,434.3 92.0,433.9 93.0,433.6 94.0,433.3 95.0,433.1 96.0,432.9 97.0,432.8 98.0,432.7 99.0,432.6 100.0,432.6 101.0,432.7 102.0,432.8 103.0,433.0 104.0,433.2 105.0,433.4 106.0,433.7 107.0,434.2 108.0,434.7 109.0,435.3 110.0,436.0 111.0,436.6 112.0,437.3 113.0,438.1 114.0,439.0 115.0,439.7 116.0,440.4 117.0,441.0 118.0,441.6 119.0,442.1 120.0,442.6 121.0,443.0 122.0,443.3 123.0,443.7 124.0,444.0 125.0,444.3 126.0,444.5 127.0,444.6 128.0,444.6 129.0,444.5 130.0,444.4 131.0,444.2 132.0,444.0 133.0,443.8 134.0,443.7 135.0,443.4 136.0,443.2 137.0,442.9 138.0,442.6 139.0,442.3 140.0,441.9 141.0,441.5 142.0,441.1 143.0,440.7 144.0,440.3 145.0,439.8 146.0,439.4 147.0,439.0 148.0,438.5 149.0,438.1 150.0,437.7 151.0,437.2 152.0,436.8 153.0,436.3 154.0,435.9 155.0,435.4 156.0,435.0 157.0,434.6 158.0,434.2 159.0,433.8 160.0,433.4 161.0,433.0 162.0,432.7 163.0,432.3 164.0,432.0 165.0,431.6 166.0,431.3 167.0,431.0 168.0,430.7 169.0,430.3 170.0,430.0 171.0,429.7 172.0,429.3 173.0,429.0 174.0,428.7 175.0,428.3 176.0,428.0 177.0,427.7 178.0,427.4 179.0,427.1 180.0,426.7 181.0,426.4 182.0,426.1 183.0,425.8 184.0,425.4 185.0,425.1 186.0,424.8 187.0,424.5 188.0,424.2 189.0,423.9 190.0,423.6 191.0,423.3 192.0,423.0 193.0,422.8 194.0,422.5 195.0,422.2 196.0,421.9 197.0,421.7 198.0,421.5 199.0,421.2 200.0,421.0 201.0,420.8 202.0,420.7 203.0,420.5 204.0,420.3 205.0,420.1 206.0,419.9 207.0,419.7 208.0,419.5 209.0,419.3 210.0,419.2 211.0,419.0 212.0,418.9 213.0,418.8 214.0,418.7 215.0,418.7 216.0,418.6 217.0,418.6 218.0,418.6 219.0,418.6 220.0,418.7 221.0,418.7 222.0,418.8 223.0,418.9 224.0,419.0 225.0,419.1 226.0,419.2 227.0,419.3 228.0,419.4 229.0,419.6 230.0,419.7 231.0,419.8 232.0,420.0 233.0,420.1 234.0,420.3 235.0,420.4 236.0,420.6 237.0,420.8 238.0,421.1 239.0,421.3 240.0,421.6 241.0,421.8 242.0,422.1 243.0,422.3 244.0,422.6 245.0,422.8 246.0,423.0 247.0,423.2 248.0,423.4 249.0,423.7 250.0,423.9 251.0,424.1 252.0,424.3 253.0,424.4 254.0,424.6 255.0,424.8 256.0,424.9 257.0,425.0 258.0,425.2 259.0,425.3 260.0,425.4 261.0,425.6 262.0,425.7 263.0,425.8 264.0,425.9 265.0,426.0 266.0,426.1 267.0,426.2 268.0,426.2 269.0,426.3 270.0,426.3 271.0,426.3 272.0,426.3 273.0,426.3 274.0,426.2 275.0,426.2 276.0,426.1 277.0,426.0 278.0,425.9 279.0,425.8 280.0,425.7 281.0,425.6 282.0,425.5 283.0,425.4 284.0,425.3 285.0,425.2 286.0,425.1 287.0,425.0 288.0,424.9 289.0,424.7 290.0,424.6 291.0,424.4 292.0,424.2 293.0,424.0 294.0,423.9 295.0,423.7 296.0,423.5 297.0,423.3 298.0,423.1 299.0,423.0 300.0,422.8 301.0,422.6 302.0,422.5 303.0,422.3 304.0,422.2 305.0,422.1 306.0,421.9 307.0,421.8 308.0,421.6 309.0,421.5 310.0,421.4 311.0,421.2 312.0,421.1 313.0,421.0 314.0,420.8 315.0,420.7 316.0,420.6 317.0,420.5 318.0,420.3 319.0,420.2 320.0,420.1 321.0,420.0 322.0,419.9 323.0,419.8 324.0,419.7 325.0,419.6 326.0,419.5 327.0,419.4 328.0,419.3 329.0,419.2 330.0,419.1 331.0,419.0 332.0,418.9 333.0,418.8 334.0,418.7 335.0,418.6 336.0,418.5 337.0,418.4 338.0,418.3 339.0,418.2 340.0,418.1 341.0,418.1 342.0,418.0 343.0,417.9 344.0,417.8 345.0,417.7 346.0,417.6 347.0,417.5 348.0,417.4 348.5,417.4" fill="none" stroke="#ec9535" stroke-width="1.0" stroke-linejoin="round"/>
<polyline points="40.8,596.1 41.8,593.2 42.8,590.3 43.8,587.3 44.8,584.3 45.8,581.1 46.8,577.7 47.8,574.4 48.8,571.4 49.8,568.8 50.8,566.4 51.8,564.2 52.8,562.3 53.8,560.5 54.8,559.0 55.8,557.5 56.8,556.1 57.8,554.8 58.8,553.5 59.8,552.2 60.8,551.0 61.8,549.8 62.8,548.7 63.8,547.6 64.8,546.5 65.8,545.5 66.8,544.4 67.8,543.5 68.8,542.5 69.8,541.6 70.8,540.6 71.8,539.7 72.8,538.8 73.8,537.9 74.8,537.1 75.8,536.3 76.8,535.6 77.8,535.0 78.8,534.4 79.8,533.9 80.8,533.4 81.8,532.9 82.8,532.5 83.8,532.1 84.8,531.7 85.8,531.4 86.8,531.0 87.8,530.7 88.8,530.3 89.8,530.0 90.8,529.6 91.8,529.2 92.8,528.9 93.8,528.7 94.8,528.5 95.8,528.3 96.8,528.1 97.8,528.0 98.8,527.9 99.8,527.9 100.8,528.2 101.8,528.6 102.8,529.1 103.8,529.8 104.8,530.4 105.8,531.3 106.8,532.4 107.8,533.5 108.8,534.6 109.8,535.6 110.8,536.7 111.8,537.7 112.8,538.8 113.8,540.0 114.8,541.1 115.8,542.2 116.8,543.3 117.8,544.4 118.8,545.5 119.8,546.6 120.8,547.7 121.8,548.7 122.8,549.6 123.8,550.3 124.8,551.0 125.8,551.6 126.8,552.2 127.8,552.6 128.8,552.9 129.8,552.9 130.8,552.9 131.8,552.9 132.8,552.9 133.8,552.9 134.8,552.9 135.8,552.9 136.8,552.9 137.8,552.9 138.8,552.7 139.8,552.5 140.8,552.3 141.8,552.0 142.8,551.6 143.8,551.3 144.8,550.9 145.8,550.5 146.8,550.0 147.8,549.3 148.8,548.7 149.8,548.0 150.8,547.3 151.8,546.6 152.8,546.0 153.8,545.3 154.8,544.7 155.8,544.0 156.8,543.3 157.8,542.7 158.8,542.1 159.8,541.5 160.8,541.0 161.8,540.6 162.8,540.2 163.8,539.8 164.8,539.4 165.8,539.1 166.8,538.7 167.8,538.4 168.8,538.0 169.8,537.7 170.8,537.4 171.8,537.0 172.8,536.7 173.8,536.4 174.8,536.0 175.8,535.6 176.8,535.1 177.8,534.5 178.8,533.9 179.8,533.3 180.8,532.7 181.8,532.1 182.8,531.5 183.8,531.0 184.8,530.5 185.8,530.0 186.8,529.5 187.8,529.0 188.8,528.5 189.8,528.1 190.8,527.6 191.8,527.2 192.8,526.8 193.8,526.4 194.8,526.1 195.8,525.8 196.8,525.5 197.8,525.1 198.8,524.8 199.8,524.5 200.8,524.2 201.8,523.9 202.8,523.6 203.8,523.4 204.8,523.1 205.8,522.9 206.8,522.7 207.8,522.6 208.8,522.4 209.8,522.3 210.8,522.3 211.8,522.3 212.8,522.3 213.8,522.3 214.8,522.3 215.8,522.3 216.8,522.3 217.8,522.3 218.8,522.3 219.8,522.3 220.8,522.3 221.8,522.5 222.8,522.7 223.8,523.0 224.8,523.4 225.8,523.7 226.8,524.1 227.8,524.4 228.8,524.7 229.8,525.0 230.8,525.3 231.8,525.7 232.8,526.0 233.8,526.3 234.8,526.7 235.8,527.0 236.8,527.3 237.8,527.6 238.8,527.9 239.8,528.2 240.8,528.5 241.8,528.8 242.8,529.1 243.8,529.4 244.8,529.7 245.8,529.9 246.8,530.2 247.8,530.5 248.8,530.7 249.8,531.0 250.8,531.2 251.8,531.5 252.8,531.7 253.8,531.9 254.8,532.1 255.8,532.3 256.8,532.5 257.8,532.7 258.8,532.9 259.8,533.1 260.8,533.3 261.8,533.4 262.8,533.6 263.8,533.8 264.8,533.9 265.8,534.1 266.8,534.2 267.8,534.3 268.8,534.3 269.8,534.4 270.8,534.4 271.8,534.4 272.8,534.4 273.8,534.3 274.8,534.3 275.8,534.2 276.8,534.1 277.8,534.0 278.8,533.9 279.8,533.8 280.8,533.7 281.8,533.6 282.8,533.5 283.8,533.4 284.8,533.2 285.8,533.1 286.8,533.0 287.8,532.8 288.8,532.7 289.8,532.5 290.8,532.3 291.8,532.1 292.8,531.9 293.8,531.6 294.8,531.4 295.8,531.2 296.8,531.0 297.8,530.7 298.8,530.5 299.8,530.3 300.8,530.2 301.8,530.0 302.8,529.9 303.8,529.7 304.8,529.6 305.8,529.5 306.8,529.4 307.8,529.2 308.8,529.1 309.8,529.0 310.8,528.9 311.8,528.8 312.8,528.7 313.8,528.6 314.8,528.4 315.8,528.3 316.8,528.2 317.8,528.1 318.8,527.9 319.8,527.8 320.8,527.7 321.8,527.5 322.8,527.4 323.8,527.3 324.8,527.1 325.8,527.0 326.8,526.9 327.8,526.7 328.8,526.6 329.8,526.4 330.8,526.3 331.8,526.1 332.8,526.0 333.8,525.8 334.8,525.7 335.8,525.5 336.8,525.3 337.8,525.2 338.8,525.0 339.8,524.8 340.8,524.7 341.8,524.5 342.8,524.3 343.8,524.2 344.8,524.0 345.8,523.8 346.8,523.6 347.8,523.4 348.5,523.3" fill="none" stroke="#ec9535" stroke-width="1.0" stroke-linejoin="round"/>
<polyline points="45.2,653.4 46.2,650.3 47.2,647.8 48.2,645.8 49.2,644.1 50.2,642.7 51.2,641.5 52.2,640.3 53.2,639.3 54.2,638.3 55.2,637.4 56.2,636.6 57.2,635.8 58.2,635.0 59.2,634.3 60.2,633.5 61.2,632.8 62.2,632.0 63.2,631.2 64.2,630.4 65.2,629.6 66.2,629.1 67.2,628.6 68.2,628.2 69.2,627.9 70.2,627.6 71.2,627.3 72.2,627.0 73.2,626.8 74.2,626.5 75.2,626.2 76.2,626.0 77.2,625.7 78.2,625.5 79.2,625.3 80.2,625.0 81.2,624.8 82.2,624.6 83.2,624.4 84.2,624.1 85.2,623.9 86.2,623.7 87.2,623.4 88.2,623.2 89.2,623.1 90.2,622.9 91.2,622.8 92.2,622.6 93.2,622.5 94.2,622.4 95.2,622.3 96.2,622.3 97.2,622.3 98.2,622.4 99.2,622.4 100.2,622.5 101.2,622.6 102.2,622.8 103.2,623.1 104.2,623.4 105.2,623.8 106.2,624.5 107.2,625.5 108.2,626.6 109.2,627.8 110.2,628.9 111.2,630.0 112.2,631.2 113.2,632.4 114.2,633.6 115.2,634.8 116.2,635.9 117.2,637.1 118.2,638.2 119.2,639.3 120.2,640.5 121.2,641.7 122.2,642.8 123.2,643.8 124.2,644.6 125.2,645.1 126.2,645.5 127.2,645.8 128.2,646.1 129.2,646.2 130.2,646.3 131.2,646.2 132.2,645.9 133.2,645.4 134.2,644.8 135.2,644.2 136.2,643.5 137.2,642.9 138.2,642.3 139.2,641.7 140.2,641.0 141.2,640.3 142.2,639.6 143.2,638.9 144.2,638.2 145.2,637.6 146.2,637.0 147.2,636.5 148.2,635.9 149.2,635.4 150.2,634.9 151.2,634.4 152.2,633.9 153.2,633.4 154.2,632.9 155.2,632.5 156.2,632.0 157.2,631.6 158.2,631.2 159.2,630.8 160.2,630.5 161.2,630.1 162.2,629.7 163.2,629.3 164.2,629.0 165.2,628.6 166.2,628.3 167.2,628.1 168.2,627.8 169.2,627.6 170.2,627.4 171.2,627.2 172.2,627.1 173.2,626.9 174.2,626.8 175.2,626.6 176.2,626.5 177.2,626.4 178.2,626.3 179.2,626.2 180.2,626.1 181.2,626.0 182.2,625.9 183.2,625.8 184.2,625.7 185.2,625.7 186.2,625.6 187.2,625.5 188.2,625.5 189.2,625.4 190.2,625.3 191.2,625.3 192.2,625.2 193.2,625.2 194.2,625.1 195.2,625.1 196.2,625.1 197.2,625.1 198.2,625.1 199.2,625.1 200.2,625.2 201.2,625.2 202.2,625.2 203.2,625.3 204.2,625.3 205.2,625.4 206.2,625.5 207.2,625.5 208.2,625.6 209.2,625.7 210.2,625.8 211.2,625.9 212.2,626.1 213.2,626.3 214.2,626.5 215.2,626.8 216.2,627.0 217.2,627.4 218.2,627.7 219.2,628.0 220.2,628.3 221.2,628.7 222.2,629.0 223.2,629.3 224.2,629.6 225.2,629.9 226.2,630.1 227.2,630.4 228.2,630.7 229.2,631.0 230.2,631.3 231.2,631.6 232.2,631.9 233.2,632.2 234.2,632.5 235.2,632.8 236.2,633.2 237.2,633.5 238.2,633.8 239.2,634.1 240.2,634.4 241.2,634.7 242.2,635.0 243.2,635.3 244.2,635.7 245.2,636.1 246.2,636.6 247.2,637.1 248.2,637.7 249.2,638.4 250.2,639.0 251.2,639.6 252.2,640.2 253.2,640.7 254.2,641.1 255.2,641.4 256.2,641.6 257.2,641.7 258.2,641.9 259.2,642.0 260.2,642.2 261.2,642.3 262.2,642.4 263.2,642.5 264.2,642.6 265.2,642.7 266.2,642.8 267.2,642.8 268.2,642.9 269.2,642.9 270.2,642.9 271.2,642.9 272.2,642.9 273.2,642.8 274.2,642.8 275.2,642.7 276.2,642.6 277.2,642.5 278.2,642.4 279.2,642.3 280.2,642.1 281.2,642.0 282.2,641.9 283.2,641.7 284.2,641.6 285.2,641.5 286.2,641.4 287.2,641.3 288.2,641.1 289.2,641.0 290.2,640.8 291.2,640.7 292.2,640.5 293.2,640.4 294.2,640.2 295.2,640.1 296.2,639.9 297.2,639.8 298.2,639.6 299.2,639.5 300.2,639.4 301.2,639.3 302.2,639.2 303.2,639.1 304.2,639.1 305.2,639.0 306.2,638.9 307.2,638.9 308.2,638.8 309.2,638.7 310.2,638.7 311.2,638.6 312.2,638.6 313.2,638.5 314.2,638.4 315.2,638.4 316.2,638.3 317.2,638.3 318.2,638.2 319.2,638.1 320.2,638.1 321.2,638.0 322.2,637.9 323.2,637.8 324.2,637.7 325.2,637.7 326.2,637.6 327.2,637.5 328.2,637.5 329.2,637.5 330.2,637.4 331.2,637.4 332.2,637.4 333.2,637.4 334.2,637.4 335.2,637.4 336.2,637.4 337.2,637.4 338.2,637.4 339.2,637.4 340.2,637.4 341.2,637.4 342.2,637.4 343.2,637.4 344.2,637.4 345.2,637.4 346.2,637.4 347.2,637.4 348.2,637.4 348.5,637.4" fill="none" stroke="#ec9535" stroke-width="1.0" stroke-linejoin="round"/>
<rect x="38.2" y="0.5" width="310.8" height="715.0" fill="none" stroke="#111" stroke-width="1.0"/>
<line x1="52.33" y1="715.5" x2="52.33" y2="708.3" stroke="#1a1a1a" stroke-width="1.0"/>
<line x1="52.33" y1="0.5" x2="52.33" y2="7.7" stroke="#1a1a1a" stroke-width="1.0"/>
<line x1="66.45" y1="715.5" x2="66.45" y2="701.2" stroke="#1a1a1a" stroke-width="1.0"/>
<line x1="66.45" y1="0.5" x2="66.45" y2="14.8" stroke="#1a1a1a" stroke-width="1.0"/>
<line x1="80.58" y1="715.5" x2="80.58" y2="708.3" stroke="#1a1a1a" stroke-width="1.0"/>
<line x1="80.58" y1="0.5" x2="80.58" y2="7.7" stroke="#1a1a1a" stroke-width="1.0"/>
<line x1="94.71" y1="715.5" x2="94.71" y2="708.3" stroke="#1a1a1a" stroke-width="1.0"/>
<line x1="94.71" y1="0.5" x2="94.71" y2="7.7" stroke="#1a1a1a" stroke-width="1.0"/>
<line x1="108.84" y1="715.5" x2="108.84" y2="708.3" stroke="#1a1a1a" stroke-width="1.0"/>
<line x1="108.84" y1="0.5" x2="108.84" y2="7.7" stroke="#1a1a1a" stroke-width="1.0"/>
<line x1="122.96" y1="715.5" x2="122.96" y2="708.3" stroke="#1a1a1a" stroke-width="1.0"/>
<line x1="122.96" y1="0.5" x2="122.96" y2="7.7" stroke="#1a1a1a" stroke-width="1.0"/>
<line x1="137.09" y1="715.5" x2="137.09" y2="701.2" stroke="#1a1a1a" stroke-width="1.0"/>
<line x1="137.09" y1="0.5" x2="137.09" y2="14.8" stroke="#1a1a1a" stroke-width="1.0"/>
<line x1="151.22" y1="715.5" x2="151.22" y2="708.3" stroke="#1a1a1a" stroke-width="1.0"/>
<line x1="151.22" y1="0.5" x2="151.22" y2="7.7" stroke="#1a1a1a" stroke-width="1.0"/>
<line x1="165.35" y1="715.5" x2="165.35" y2="708.3" stroke="#1a1a1a" stroke-width="1.0"/>
<line x1="165.35" y1="0.5" x2="165.35" y2="7.7" stroke="#1a1a1a" stroke-width="1.0"/>
<line x1="179.47" y1="715.5" x2="179.47" y2="708.3" stroke="#1a1a1a" stroke-width="1.0"/>
<line x1="179.47" y1="0.5" x2="179.47" y2="7.7" stroke="#1a1a1a" stroke-width="1.0"/>
<line x1="193.60" y1="715.5" x2="193.60" y2="708.3" stroke="#1a1a1a" stroke-width="1.0"/>
<line x1="193.60" y1="0.5" x2="193.60" y2="7.7" stroke="#1a1a1a" stroke-width="1.0"/>
<line x1="207.73" y1="715.5" x2="207.73" y2="701.2" stroke="#1a1a1a" stroke-width="1.0"/>
<line x1="207.73" y1="0.5" x2="207.73" y2="14.8" stroke="#1a1a1a" stroke-width="1.0"/>
<line x1="221.85" y1="715.5" x2="221.85" y2="708.3" stroke="#1a1a1a" stroke-width="1.0"/>
<line x1="221.85" y1="0.5" x2="221.85" y2="7.7" stroke="#1a1a1a" stroke-width="1.0"/>
<line x1="235.98" y1="715.5" x2="235.98" y2="708.3" stroke="#1a1a1a" stroke-width="1.0"/>
<line x1="235.98" y1="0.5" x2="235.98" y2="7.7" stroke="#1a1a1a" stroke-width="1.0"/>
<line x1="250.11" y1="715.5" x2="250.11" y2="708.3" stroke="#1a1a1a" stroke-width="1.0"/>
<line x1="250.11" y1="0.5" x2="250.11" y2="7.7" stroke="#1a1a1a" stroke-width="1.0"/>
<line x1="264.24" y1="715.5" x2="264.24" y2="708.3" stroke="#1a1a1a" stroke-width="1.0"/>
<line x1="264.24" y1="0.5" x2="264.24" y2="7.7" stroke="#1a1a1a" stroke-width="1.0"/>
<line x1="278.36" y1="715.5" x2="278.36" y2="701.2" stroke="#1a1a1a" stroke-width="1.0"/>
<line x1="278.36" y1="0.5" x2="278.36" y2="14.8" stroke="#1a1a1a" stroke-width="1.0"/>
<line x1="292.49" y1="715.5" x2="292.49" y2="708.3" stroke="#1a1a1a" stroke-width="1.0"/>
<line x1="292.49" y1="0.5" x2="292.49" y2="7.7" stroke="#1a1a1a" stroke-width="1.0"/>
<line x1="306.62" y1="715.5" x2="306.62" y2="708.3" stroke="#1a1a1a" stroke-width="1.0"/>
<line x1="306.62" y1="0.5" x2="306.62" y2="7.7" stroke="#1a1a1a" stroke-width="1.0"/>
<line x1="320.75" y1="715.5" x2="320.75" y2="708.3" stroke="#1a1a1a" stroke-width="1.0"/>
<line x1="320.75" y1="0.5" x2="320.75" y2="7.7" stroke="#1a1a1a" stroke-width="1.0"/>
<line x1="334.87" y1="715.5" x2="334.87" y2="708.3" stroke="#1a1a1a" stroke-width="1.0"/>
<line x1="334.87" y1="0.5" x2="334.87" y2="7.7" stroke="#1a1a1a" stroke-width="1.0"/>
<line x1="38.2" y1="670.81" x2="41.300000000000004" y2="670.81" stroke="#1a1a1a" stroke-width="1.0"/>
<line x1="349.0" y1="670.81" x2="345.9" y2="670.81" stroke="#1a1a1a" stroke-width="1.0"/>
<line x1="38.2" y1="626.12" x2="44.400000000000006" y2="626.12" stroke="#1a1a1a" stroke-width="1.0"/>
<line x1="349.0" y1="626.12" x2="342.8" y2="626.12" stroke="#1a1a1a" stroke-width="1.0"/>
<line x1="38.2" y1="581.44" x2="41.300000000000004" y2="581.44" stroke="#1a1a1a" stroke-width="1.0"/>
<line x1="349.0" y1="581.44" x2="345.9" y2="581.44" stroke="#1a1a1a" stroke-width="1.0"/>
<line x1="38.2" y1="536.75" x2="44.400000000000006" y2="536.75" stroke="#1a1a1a" stroke-width="1.0"/>
<line x1="349.0" y1="536.75" x2="342.8" y2="536.75" stroke="#1a1a1a" stroke-width="1.0"/>
<line x1="38.2" y1="492.06" x2="41.300000000000004" y2="492.06" stroke="#1a1a1a" stroke-width="1.0"/>
<line x1="349.0" y1="492.06" x2="345.9" y2="492.06" stroke="#1a1a1a" stroke-width="1.0"/>
<line x1="38.2" y1="447.38" x2="44.400000000000006" y2="447.38" stroke="#1a1a1a" stroke-width="1.0"/>
<line x1="349.0" y1="447.38" x2="342.8" y2="447.38" stroke="#1a1a1a" stroke-width="1.0"/>
<line x1="38.2" y1="402.69" x2="41.300000000000004" y2="402.69" stroke="#1a1a1a" stroke-width="1.0"/>
<line x1="349.0" y1="402.69" x2="345.9" y2="402.69" stroke="#1a1a1a" stroke-width="1.0"/>
<line x1="38.2" y1="358.00" x2="44.400000000000006" y2="358.00" stroke="#1a1a1a" stroke-width="1.0"/>
<line x1="349.0" y1="358.00" x2="342.8" y2="358.00" stroke="#1a1a1a" stroke-width="1.0"/>
<line x1="38.2" y1="313.31" x2="41.300000000000004" y2="313.31" stroke="#1a1a1a" stroke-width="1.0"/>
<line x1="349.0" y1="313.31" x2="345.9" y2="313.31" stroke="#1a1a1a" stroke-width="1.0"/>
<line x1="38.2" y1="268.62" x2="44.400000000000006" y2="268.62" stroke="#1a1a1a" stroke-width="1.0"/>
<line x1="349.0" y1="268.62" x2="342.8" y2="268.62" stroke="#1a1a1a" stroke-width="1.0"/>
<line x1="38.2" y1="223.94" x2="41.300000000000004" y2="223.94" stroke="#1a1a1a" stroke-width="1.0"/>
<line x1="349.0" y1="223.94" x2="345.9" y2="223.94" stroke="#1a1a1a" stroke-width="1.0"/>
<line x1="38.2" y1="179.25" x2="44.400000000000006" y2="179.25" stroke="#1a1a1a" stroke-width="1.0"/>
<line x1="349.0" y1="179.25" x2="342.8" y2="179.25" stroke="#1a1a1a" stroke-width="1.0"/>
<line x1="38.2" y1="134.56" x2="41.300000000000004" y2="134.56" stroke="#1a1a1a" stroke-width="1.0"/>
<line x1="349.0" y1="134.56" x2="345.9" y2="134.56" stroke="#1a1a1a" stroke-width="1.0"/>
<line x1="38.2" y1="89.88" x2="44.400000000000006" y2="89.88" stroke="#1a1a1a" stroke-width="1.0"/>
<line x1="349.0" y1="89.88" x2="342.8" y2="89.88" stroke="#1a1a1a" stroke-width="1.0"/>
<line x1="38.2" y1="45.19" x2="41.300000000000004" y2="45.19" stroke="#1a1a1a" stroke-width="1.0"/>
<line x1="349.0" y1="45.19" x2="345.9" y2="45.19" stroke="#1a1a1a" stroke-width="1.0"/>
<text x="33" y="715.9" text-anchor="end" class="tk">0</text>
<text x="33" y="632.5" text-anchor="end" class="tk">1</text>
<text x="33" y="543.1" text-anchor="end" class="tk">2</text>
<text x="33" y="453.8" text-anchor="end" class="tk">3</text>
<text x="33" y="364.4" text-anchor="end" class="tk">4</text>
<text x="33" y="275.0" text-anchor="end" class="tk">5</text>
<text x="33" y="185.7" text-anchor="end" class="tk">6</text>
<text x="33" y="96.3" text-anchor="end" class="tk">7</text>
<text x="33" y="10.9" text-anchor="end" class="tk">8</text>
<text x="66.5" y="737.0" text-anchor="middle" class="tk" textLength="22.5" lengthAdjust="spacingAndGlyphs">0.5</text>
<text x="137.1" y="737.0" text-anchor="middle" class="tk" textLength="22.5" lengthAdjust="spacingAndGlyphs">1.0</text>
<text x="207.7" y="737.0" text-anchor="middle" class="tk" textLength="22.5" lengthAdjust="spacingAndGlyphs">1.5</text>
<text x="278.4" y="737.0" text-anchor="middle" class="tk" textLength="22.5" lengthAdjust="spacingAndGlyphs">2.0</text>
<text x="349.0" y="737.0" text-anchor="middle" class="tk" textLength="22.5" lengthAdjust="spacingAndGlyphs">2.5</text>
<text x="192.2" y="754.8" text-anchor="middle" class="ax" textLength="156" lengthAdjust="spacingAndGlyphs">Wavelength (microns)</text>
<text transform="translate(11.2,358.1) rotate(-90)" x="0" y="0" text-anchor="middle" class="ax" textLength="256" lengthAdjust="spacingAndGlyphs">Normalized and Offset Reflectance</text>
<text x="179.0" y="103.9" class="lb" textLength="125.0" lengthAdjust="spacingAndGlyphs">(164211) 2004 JA27</text>
<text x="178.8" y="117.1" class="lo" textLength="73.8" lengthAdjust="spacingAndGlyphs">LL5 Olivenza</text>
<text x="179.0" y="179.6" class="lb" textLength="134.7" lengthAdjust="spacingAndGlyphs">(163899) 2003 SD220</text>
<text x="178.8" y="192.9" class="lo" textLength="53.0" lengthAdjust="spacingAndGlyphs">H5 Chela</text>
<text x="179.0" y="278.1" class="lb" textLength="126.4" lengthAdjust="spacingAndGlyphs">(153958) 2002 AM31</text>
<text x="178.8" y="291.4" class="lo" textLength="57.4" lengthAdjust="spacingAndGlyphs">L5 Tsarev</text>
<text x="179.0" y="349.2" class="lb" textLength="135.0" lengthAdjust="spacingAndGlyphs">(143651) 2003 QO104</text>
<text x="178.8" y="362.9" class="lo" textLength="60.0" lengthAdjust="spacingAndGlyphs">L5 Ergheo</text>
<text x="179.0" y="448.0" class="lb" textLength="98.1" lengthAdjust="spacingAndGlyphs">(99942) Apophis</text>
<text x="178.8" y="460.9" class="lo" textLength="66.8" lengthAdjust="spacingAndGlyphs">LL4 Hamlet</text>
<text x="179.0" y="564.2" class="lb" textLength="72.2" lengthAdjust="spacingAndGlyphs">(5011) Ptah</text>
<text x="178.8" y="577.3" class="lo" textLength="129.3" lengthAdjust="spacingAndGlyphs">LL4 Greenwell Springs</text>
<text x="179.0" y="662.2" class="lb" textLength="68.3" lengthAdjust="spacingAndGlyphs">(4450) Pan</text>
<text x="178.8" y="675.3" class="lo" textLength="141.9" lengthAdjust="spacingAndGlyphs">H5 Olmedilla de Alarcon</text>
</svg>
</body></html>
